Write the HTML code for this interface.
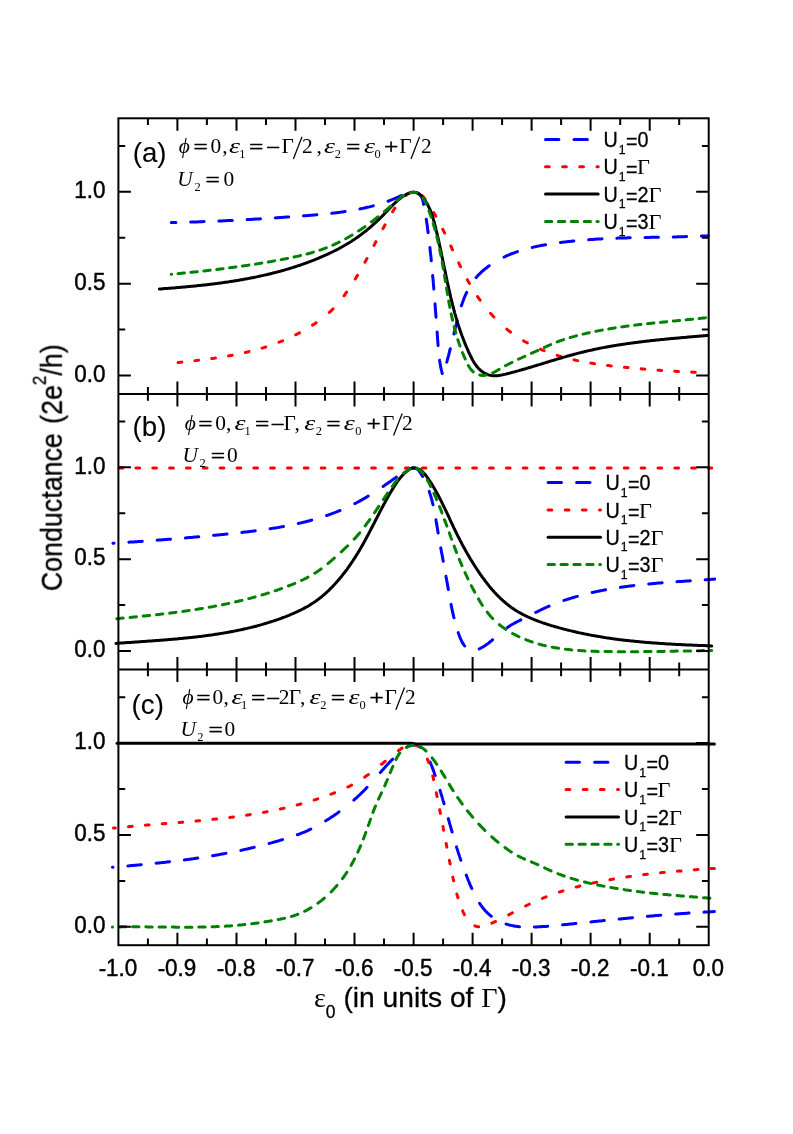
<!DOCTYPE html>
<html><head><meta charset="utf-8"><title>Conductance</title>
<style>html,body{margin:0;padding:0;background:#fff;}svg{display:block;}text{font-family:"Liberation Sans", sans-serif;fill:#000;stroke:#000;stroke-width:0.45px;stroke-linejoin:round;}.se{font-family:"Liberation Serif", serif;stroke-width:0;}.it{font-family:"Liberation Serif", serif;font-style:italic;stroke-width:0;}</style></head><body>
<svg width="793" height="1134" viewBox="0 0 793 1134">
<defs><filter id="g" x="0" y="0" width="793" height="1134" filterUnits="userSpaceOnUse" color-interpolation-filters="sRGB"><feColorMatrix type="saturate" values="0"/></filter></defs>
<rect x="0" y="0" width="793" height="1134" fill="#ffffff"/>
<g fill="none" stroke-width="3.0" stroke-linecap="round" stroke-linejoin="round">
<path d="M171.3 222.6L172.3 222.6L173.3 222.6L174.3 222.5L175.3 222.5L176.3 222.5L177.3 222.5L178.3 222.4L179.3 222.4L180.3 222.4L181.3 222.4L182.3 222.3L183.3 222.3L184.3 222.3L185.3 222.2L186.3 222.2L187.3 222.2L188.3 222.2L189.3 222.1L190.3 222.1L191.3 222.1L192.3 222L193.3 222L194.3 222L195.3 221.9L196.3 221.9L197.3 221.9L198.3 221.8L199.3 221.8L200.3 221.8L201.3 221.7L202.3 221.7L203.3 221.6L204.3 221.6L205.3 221.6L206.3 221.5L207.3 221.5L208.3 221.4L209.3 221.4L210.3 221.4L211.3 221.3L212.3 221.3L213.3 221.2L214.3 221.2L215.3 221.2L216.3 221.1L217.3 221.1L218.3 221L219.3 221L220.3 220.9L221.3 220.9L222.3 220.9L223.3 220.8L224.3 220.8L225.3 220.7L226.3 220.7L227.3 220.6L228.3 220.6L229.3 220.5L230.3 220.5L231.3 220.4L232.3 220.4L233.3 220.3L234.3 220.3L235.3 220.2L236.3 220.2L237.3 220.1L238.2 220.1L239.2 220L240.2 220L241.2 219.9L242.2 219.9L243.2 219.8L244.2 219.7L245.2 219.7L246.2 219.6L247.2 219.6L248.2 219.5L249.2 219.5L250.2 219.4L251.2 219.4L252.2 219.3L253.2 219.2L254.2 219.2L255.2 219.1L256.2 219.1L257.2 219L258.2 218.9L259.2 218.9L260.2 218.8L261.2 218.8L262.2 218.7L263.2 218.6L264.2 218.6L265.2 218.5L266.2 218.4L267.2 218.4L268.1 218.3L269.1 218.3L270.1 218.2L271.1 218.1L272.1 218.1L273.1 218L274.1 217.9L275.1 217.9L276.1 217.8L277.1 217.7L278.1 217.7L279.1 217.6L280.1 217.5L281.1 217.5L282.1 217.4L283.1 217.3L284.1 217.3L285.1 217.2L286.1 217.1L287.1 217L288.1 217L289.1 216.9L290.1 216.8L291.1 216.8L292.1 216.7L293.1 216.6L294.1 216.5L295.1 216.5L296.1 216.4L297.1 216.3L298.1 216.3L299.1 216.2L300.1 216.1L301.1 216L302.1 216L303.1 215.9L304.1 215.8L305.1 215.7L306.1 215.7L307.1 215.6L308.1 215.5L309.1 215.4L310.1 215.3L311.1 215.3L312.1 215.2L313.1 215.1L314.1 215L315.1 214.9L316.1 214.8L317.1 214.7L318.1 214.7L319.1 214.6L320.1 214.5L321.1 214.4L322.1 214.3L323.1 214.2L324.1 214.1L325.1 214L326.1 213.9L327.1 213.8L328.1 213.7L329.1 213.6L330 213.5L331 213.4L332 213.3L333 213.1L334 213L335 212.9L336 212.8L337 212.7L338 212.5L339 212.4L340 212.3L341 212.1L342 212L342.9 211.9L343.9 211.7L344.9 211.6L345.9 211.4L346.9 211.3L347.9 211.1L348.9 211L349.9 210.8L350.8 210.6L351.8 210.5L352.8 210.3L353.8 210.1L354.8 210L355.7 209.8L356.7 209.6L357.7 209.4L358.7 209.2L359.7 209L360.6 208.8L361.6 208.6L362.6 208.4L363.6 208.2L364.5 208L365.5 207.8L366.5 207.5L367.4 207.3L368.4 207.1L369.4 206.9L370.3 206.6L371.3 206.4L372.3 206.1L373.2 205.9L374.2 205.6L375.2 205.3L376.1 205.1L377.1 204.8L378 204.5L379 204.2L379.9 203.9L380.9 203.7L381.8 203.3L382.8 203L383.7 202.7L384.7 202.4L385.6 202.1L386.6 201.7L387.5 201.4L388.5 201.1L389.4 200.7L390.3 200.3L391.3 200L392.2 199.6L393.1 199.2L394.1 198.8L395 198.4L395.9 198L396.8 197.6L397.8 197.2L398.7 196.8L399.6 196.3L400.5 195.9L401.4 195.5L402.4 195L403.3 194.6L404.2 194.1L405.1 193.7L406 193.4L407 193L407.9 192.7L408.9 192.4L409.8 192.2L410.8 192.1L411.8 192L412.8 192L413.8 192L414.8 192.1L415.8 192.4L416.7 192.6L417.7 193L418.5 193.5L419.3 194L419.9 194.6L420.5 195.3L421.1 196.1L421.5 196.9L421.9 197.8L422.3 198.7L422.6 199.6L422.9 200.6L423.1 201.6L423.3 202.6L423.5 203.6L423.7 204.7L423.9 205.7L424.1 206.7L424.3 207.7L424.5 208.8L424.7 209.8L424.8 210.8L425 211.8L425.2 212.8L425.4 213.8L425.5 214.8L425.7 215.8L425.9 216.8L426 217.8L426.2 218.8L426.3 219.8L426.5 220.8L426.7 221.8L426.8 222.8L426.9 223.8L427.1 224.8L427.2 225.8L427.4 226.8L427.5 227.8L427.6 228.8L427.8 229.8L427.9 230.8L428 231.8L428.2 232.7L428.3 233.7L428.4 234.7L428.5 235.7L428.7 236.7L428.8 237.7L428.9 238.7L429 239.6L429.1 240.6L429.3 241.6L429.4 242.6L429.5 243.6L429.6 244.6L429.7 245.5L429.8 246.5L429.9 247.5L430 248.5L430.1 249.5L430.2 250.5L430.3 251.5L430.4 252.4L430.5 253.4L430.6 254.4L430.8 255.4L430.9 256.4L431 257.4L431.1 258.4L431.2 259.4L431.2 260.4L431.3 261.3L431.4 262.3L431.5 263.3L431.6 264.3L431.7 265.3L431.8 266.3L431.9 267.3L432 268.3L432.1 269.3L432.2 270.3L432.3 271.3L432.4 272.3L432.5 273.3L432.6 274.3L432.6 275.3L432.7 276.3L432.8 277.3L432.9 278.2L433 279.2L433.1 280.2L433.2 281.2L433.3 282.2L433.3 283.2L433.4 284.2L433.5 285.2L433.6 286.2L433.7 287.2L433.8 288.2L433.8 289.2L433.9 290.2L434 291.2L434.1 292.2L434.2 293.2L434.3 294.2L434.3 295.2L434.4 296.2L434.5 297.2L434.6 298.2L434.6 299.2L434.7 300.2L434.8 301.2L434.9 302.2L435 303.2L435 304.2L435.1 305.2L435.2 306.2L435.3 307.2L435.3 308.2L435.4 309.2L435.5 310.2L435.6 311.2L435.6 312.2L435.7 313.2L435.8 314.2L435.9 315.2L435.9 316.2L436 317.2L436.1 318.2L436.2 319.2L436.2 320.2L436.3 321.2L436.4 322.2L436.5 323.2L436.5 324.2L436.6 325.2L436.7 326.2L436.8 327.2L436.8 328.2L436.9 329.2L437 330.2L437 331.2L437.1 332.2L437.2 333.2L437.3 334.2L437.3 335.2L437.4 336.2L437.5 337.2L437.5 338.2L437.6 339.2L437.7 340.2L437.8 341.2L437.8 342.2L437.9 343.2L438 344.2L438.1 345.2L438.1 346.2L438.2 347.2L438.3 348.2L438.4 349.1L438.5 350.1L438.6 351.1L438.7 352.1L438.8 353.1L438.9 354.1L439 355.1L439.1 356.1L439.2 357.1L439.3 358.1L439.4 359.1L439.6 360L439.7 361L439.9 362L440 363L440.2 364L440.4 365L440.5 365.9L440.7 366.9L440.9 367.9L441.1 368.9L441.3 369.9L441.6 370.8L441.8 371.8L442 372.8L442.3 373.8L442.5 374.7L442.7 375.3L443 374.3L443.3 373.4L443.6 372.4L444 371.5L444.3 370.5L444.6 369.6L444.8 368.6L445.1 367.6L445.4 366.7L445.7 365.7L446 364.8L446.3 363.8L446.5 362.8L446.8 361.9L447.1 360.9L447.3 360L447.6 359L447.9 358L448.1 357.1L448.4 356.1L448.6 355.1L448.9 354.2L449.1 353.2L449.4 352.3L449.6 351.3L449.9 350.3L450.1 349.4L450.4 348.4L450.6 347.4L450.8 346.5L451.1 345.5L451.3 344.5L451.5 343.6L451.8 342.6L452 341.6L452.2 340.7L452.5 339.7L452.7 338.7L452.9 337.8L453.2 336.8L453.4 335.8L453.7 334.8L453.9 333.9L454.1 332.9L454.4 331.9L454.6 331L454.8 330L455.1 329L455.3 328L455.5 327.1L455.8 326.1L456 325.1L456.3 324.1L456.5 323.2L456.8 322.2L457 321.2L457.3 320.3L457.5 319.3L457.8 318.3L458 317.3L458.3 316.4L458.6 315.4L458.8 314.4L459.1 313.4L459.4 312.5L459.6 311.5L459.9 310.5L460.2 309.6L460.5 308.6L460.8 307.6L461.1 306.7L461.4 305.7L461.7 304.8L462.1 303.8L462.4 302.9L462.7 301.9L463.1 301L463.4 300L463.8 299.1L464.1 298.2L464.5 297.2L464.9 296.3L465.3 295.4L465.7 294.5L466.1 293.6L466.5 292.7L466.9 291.8L467.4 290.9L467.8 290L468.3 289.1L468.8 288.3L469.2 287.4L469.7 286.6L470.3 285.7L470.8 284.9L471.3 284L471.8 283.2L472.4 282.4L473 281.6L473.6 280.8L474.2 280L474.8 279.2L475.4 278.4L476 277.7L476.7 276.9L477.4 276.2L478 275.4L478.7 274.7L479.5 274L480.2 273.3L480.9 272.6L481.6 271.9L482.4 271.2L483.2 270.5L483.9 269.9L484.7 269.2L485.5 268.6L486.3 268L487.1 267.3L487.9 266.7L488.7 266.1L489.5 265.5L490.4 265L491.2 264.4L492 263.8L492.9 263.3L493.7 262.7L494.6 262.2L495.4 261.7L496.3 261.2L497.1 260.7L498 260.2L498.9 259.7L499.7 259.2L500.6 258.8L501.5 258.3L502.4 257.9L503.3 257.4L504.2 257L505.1 256.6L506 256.1L506.9 255.7L507.8 255.3L508.7 254.9L509.6 254.6L510.5 254.2L511.4 253.8L512.4 253.5L513.3 253.1L514.2 252.8L515.2 252.4L516.1 252.1L517 251.8L518 251.4L518.9 251.1L519.9 250.8L520.8 250.5L521.8 250.2L522.7 249.9L523.7 249.7L524.6 249.4L525.6 249.1L526.6 248.8L527.5 248.6L528.5 248.3L529.5 248.1L530.4 247.9L531.4 247.6L532.4 247.4L533.4 247.2L534.3 246.9L535.3 246.7L536.3 246.5L537.3 246.3L538.3 246.1L539.2 245.9L540.2 245.7L541.2 245.5L542.2 245.3L543.2 245.2L544.2 245L545.2 244.8L546.2 244.6L547.2 244.5L548.2 244.3L549.1 244.1L550.1 244L551.1 243.8L552.1 243.7L553.1 243.5L554.1 243.4L555.1 243.2L556.1 243.1L557.1 243L558.1 242.8L559.1 242.7L560.1 242.6L561.1 242.4L562.1 242.3L563.1 242.2L564.1 242.1L565.1 241.9L566.1 241.8L567.1 241.7L568.1 241.6L569 241.5L570 241.4L571 241.3L572 241.2L573 241L574 240.9L575 240.8L576 240.8L577 240.7L578 240.6L579 240.5L580 240.4L581 240.3L582 240.2L583 240.1L584 240L585 240L586 239.9L587 239.8L588 239.7L589 239.7L590 239.6L591 239.5L592 239.4L592.9 239.4L593.9 239.3L594.9 239.2L595.9 239.2L596.9 239.1L597.9 239.1L598.9 239L599.9 239L600.9 238.9L601.9 238.8L602.9 238.8L603.9 238.7L604.9 238.7L605.9 238.6L606.9 238.6L607.9 238.5L608.9 238.5L609.9 238.5L610.9 238.4L611.9 238.4L612.9 238.3L613.9 238.3L614.9 238.2L615.9 238.2L616.9 238.2L617.9 238.1L618.9 238.1L619.9 238.1L620.9 238L621.9 238L622.9 238L623.8 237.9L624.8 237.9L625.8 237.9L626.8 237.9L627.8 237.8L628.8 237.8L629.8 237.8L630.8 237.7L631.8 237.7L632.8 237.7L633.8 237.7L634.8 237.7L635.8 237.6L636.8 237.6L637.8 237.6L638.8 237.6L639.8 237.5L640.8 237.5L641.8 237.5L642.8 237.5L643.8 237.5L644.8 237.4L645.8 237.4L646.8 237.4L647.8 237.4L648.8 237.4L649.8 237.4L650.8 237.3L651.8 237.3L652.8 237.3L653.8 237.3L654.8 237.3L655.8 237.2L656.8 237.2L657.8 237.2L658.8 237.2L659.8 237.2L660.8 237.2L661.8 237.1L662.8 237.1L663.8 237.1L664.8 237.1L665.8 237.1L666.8 237.1L667.8 237L668.8 237L669.8 237L670.8 237L671.8 237L672.8 236.9L673.8 236.9L674.8 236.9L675.8 236.9L676.8 236.9L677.8 236.8L678.8 236.8L679.8 236.8L680.8 236.8L681.8 236.7L682.8 236.7L683.8 236.7L684.8 236.7L685.8 236.6L686.8 236.6L687.8 236.6L688.8 236.5L689.8 236.5L690.8 236.5L691.8 236.5L692.8 236.4L693.8 236.4L694.8 236.4L695.8 236.3L696.8 236.3L697.8 236.2L698.8 236.2L699.8 236.2L700.8 236.1L701.8 236.1L702.8 236L703.8 236L704.8 236L705.8 235.9L706.8 235.9L707.8 235.8L708.2 235.8" stroke="#0000ff" stroke-dasharray="4.6 14.82 13.42 14.83 13.43 14.84 13.44 14.85 13.45 14.85 13.46 14.87 13.53 15.04 13.76 15.53 14.61 15.52 14.87 15.04 13.56 14.91 13.48 14.87 13.46 14.86 13.45 14.85 13.45 14.89 13.68 15.48 13.89 15.24 13.82 15.39 14.42 17.63 17.74 17.18 14.49 15.4 13.69 14.98 13.51 14.86 13.44 14.83 13.42 14.82 13.41 14.81 13.41 14.82 56.81 50"/>
<path d="M178.1 362.5L179.1 362.4L180.1 362.3L181.1 362.2L182.1 362.1L183.1 362L184 361.9L185 361.8L186 361.7L187 361.6L188 361.4L189 361.3L190 361.2L191 361.1L192 361L193 360.9L194 360.8L195 360.7L196 360.6L196.9 360.4L197.9 360.3L198.9 360.2L199.9 360.1L200.9 360L201.9 359.8L202.9 359.7L203.9 359.6L204.9 359.5L205.9 359.3L206.9 359.2L207.9 359.1L208.9 358.9L209.9 358.8L210.9 358.7L211.8 358.5L212.8 358.4L213.8 358.3L214.8 358.1L215.8 358L216.8 357.8L217.8 357.7L218.8 357.5L219.8 357.4L220.8 357.2L221.8 357.1L222.7 356.9L223.7 356.7L224.7 356.6L225.7 356.4L226.7 356.2L227.7 356.1L228.7 355.9L229.7 355.7L230.6 355.5L231.6 355.4L232.6 355.2L233.6 355L234.6 354.8L235.6 354.6L236.5 354.4L237.5 354.2L238.5 354L239.5 353.8L240.5 353.6L241.4 353.4L242.4 353.2L243.4 353L244.4 352.7L245.3 352.5L246.3 352.3L247.3 352.1L248.3 351.8L249.2 351.6L250.2 351.3L251.2 351.1L252.1 350.9L253.1 350.6L254.1 350.4L255 350.1L256 349.8L257 349.6L257.9 349.3L258.9 349L259.8 348.7L260.8 348.5L261.8 348.2L262.7 347.9L263.7 347.6L264.6 347.3L265.6 347L266.5 346.7L267.5 346.4L268.4 346.1L269.4 345.7L270.3 345.4L271.3 345.1L272.2 344.8L273.1 344.4L274.1 344.1L275 343.7L276 343.4L276.9 343L277.8 342.7L278.8 342.3L279.7 341.9L280.6 341.6L281.5 341.2L282.5 340.8L283.4 340.4L284.3 340L285.2 339.7L286.2 339.3L287.1 338.9L288 338.4L288.9 338L289.8 337.6L290.7 337.2L291.6 336.8L292.5 336.3L293.4 335.9L294.3 335.5L295.2 335L296.1 334.6L297 334.1L297.9 333.7L298.8 333.2L299.7 332.7L300.5 332.3L301.4 331.8L302.3 331.3L303.2 330.8L304 330.3L304.9 329.8L305.8 329.3L306.6 328.8L307.5 328.3L308.3 327.8L309.2 327.3L310.1 326.8L310.9 326.2L311.7 325.7L312.6 325.1L313.4 324.6L314.3 324.1L315.1 323.5L315.9 322.9L316.8 322.4L317.6 321.8L318.4 321.2L319.2 320.6L320 320.1L320.8 319.5L321.6 318.9L322.4 318.3L323.2 317.6L324 317L324.8 316.4L325.6 315.8L326.3 315.1L327.1 314.5L327.8 313.8L328.6 313.1L329.3 312.5L330.1 311.8L330.8 311.1L331.5 310.4L332.2 309.7L332.9 309L333.6 308.3L334.3 307.5L335 306.8L335.7 306L336.3 305.3L337 304.5L337.6 303.8L338.3 303L338.9 302.2L339.6 301.5L340.2 300.7L340.8 299.9L341.4 299.1L342.1 298.3L342.7 297.5L343.3 296.7L343.9 295.9L344.5 295.1L345 294.3L345.6 293.4L346.2 292.6L346.8 291.8L347.4 291L347.9 290.2L348.5 289.3L349.1 288.5L349.6 287.7L350.2 286.8L350.7 286L351.3 285.2L351.8 284.3L352.4 283.5L352.9 282.7L353.4 281.8L354 281L354.5 280.1L355 279.3L355.6 278.4L356.1 277.6L356.6 276.7L357.1 275.9L357.6 275L358.1 274.2L358.6 273.3L359.1 272.4L359.6 271.6L360.1 270.7L360.6 269.9L361.1 269L361.6 268.1L362.1 267.3L362.6 266.4L363.1 265.5L363.6 264.7L364.1 263.8L364.6 262.9L365 262L365.5 261.2L366 260.3L366.5 259.4L367 258.5L367.4 257.7L367.9 256.8L368.4 255.9L368.9 255L369.3 254.2L369.8 253.3L370.3 252.4L370.7 251.5L371.2 250.6L371.7 249.8L372.2 248.9L372.6 248L373.1 247.1L373.6 246.2L374 245.3L374.5 244.5L375 243.6L375.4 242.7L375.9 241.8L376.4 240.9L376.8 240L377.3 239.2L377.8 238.3L378.2 237.4L378.7 236.5L379.2 235.6L379.7 234.7L380.1 233.9L380.6 233L381.1 232.1L381.6 231.2L382 230.3L382.5 229.5L383 228.6L383.5 227.7L384 226.8L384.4 225.9L384.9 225.1L385.4 224.2L385.9 223.3L386.4 222.4L386.9 221.6L387.4 220.7L387.9 219.8L388.4 218.9L388.9 218.1L389.4 217.2L389.9 216.3L390.4 215.5L390.9 214.6L391.4 213.7L391.9 212.9L392.5 212L393 211.1L393.5 210.3L394 209.4L394.6 208.6L395.1 207.7L395.6 206.8L396.2 206L396.7 205.2L397.3 204.3L397.9 203.5L398.5 202.7L399.1 201.9L399.7 201.1L400.3 200.3L401 199.6L401.6 198.9L402.3 198.2L403 197.5L403.8 196.8L404.6 196.2L405.4 195.6L406.2 195L407 194.5L407.9 194L408.9 193.5L409.8 193.1L410.8 192.8L411.8 192.5L412.8 192.3L413.8 192.1L414.8 192.1L415.7 192.2L416.7 192.3L417.7 192.6L418.6 192.9L419.4 193.4L420.2 193.9L421 194.5L421.7 195.1L422.4 195.8L423 196.6L423.7 197.3L424.3 198.1L424.9 199L425.5 199.8L426.1 200.6L426.6 201.5L427.2 202.3L427.8 203.1L428.3 204L428.9 204.8L429.5 205.6L430 206.5L430.5 207.3L431.1 208.2L431.6 209.1L432.1 209.9L432.7 210.8L433.2 211.6L433.7 212.5L434.2 213.4L434.7 214.2L435.2 215.1L435.7 216L436.2 216.8L436.7 217.7L437.2 218.6L437.7 219.5L438.1 220.3L438.6 221.2L439.1 222.1L439.5 223L440 223.9L440.5 224.8L440.9 225.6L441.4 226.5L441.8 227.4L442.3 228.3L442.7 229.2L443.2 230.1L443.6 231L444.1 231.9L444.5 232.8L445 233.7L445.4 234.6L445.8 235.5L446.3 236.4L446.7 237.3L447.1 238.2L447.5 239.1L448 240L448.4 240.9L448.8 241.8L449.2 242.7L449.7 243.6L450.1 244.5L450.5 245.4L450.9 246.3L451.4 247.2L451.8 248.1L452.2 249.1L452.6 250L453 250.9L453.5 251.8L453.9 252.7L454.3 253.6L454.7 254.5L455.2 255.4L455.6 256.3L456 257.2L456.4 258.1L456.9 259L457.3 259.9L457.7 260.8L458.1 261.7L458.6 262.6L459 263.5L459.4 264.4L459.9 265.3L460.3 266.2L460.8 267.1L461.2 268L461.6 268.9L462.1 269.8L462.5 270.7L463 271.6L463.4 272.5L463.9 273.3L464.4 274.2L464.8 275.1L465.3 276L465.8 276.9L466.2 277.8L466.7 278.6L467.2 279.5L467.7 280.4L468.2 281.3L468.7 282.1L469.2 283L469.7 283.9L470.2 284.7L470.7 285.6L471.2 286.5L471.7 287.3L472.2 288.2L472.7 289L473.3 289.9L473.8 290.8L474.3 291.6L474.9 292.4L475.4 293.3L476 294.1L476.5 295L477.1 295.8L477.6 296.6L478.2 297.5L478.8 298.3L479.4 299.1L479.9 299.9L480.5 300.7L481.1 301.6L481.7 302.4L482.3 303.2L482.9 304L483.5 304.8L484.1 305.6L484.7 306.4L485.4 307.1L486 307.9L486.6 308.7L487.3 309.5L487.9 310.3L488.5 311L489.2 311.8L489.8 312.5L490.5 313.3L491.2 314.1L491.8 314.8L492.5 315.5L493.2 316.3L493.9 317L494.5 317.7L495.2 318.5L495.9 319.2L496.6 319.9L497.3 320.6L498 321.3L498.8 322L499.5 322.7L500.2 323.4L500.9 324L501.7 324.7L502.4 325.4L503.2 326.1L503.9 326.7L504.7 327.4L505.4 328L506.2 328.7L507 329.3L507.7 329.9L508.5 330.5L509.3 331.2L510.1 331.8L510.9 332.4L511.7 333L512.5 333.6L513.3 334.1L514.1 334.7L514.9 335.3L515.8 335.9L516.6 336.4L517.4 337L518.3 337.5L519.1 338.1L519.9 338.6L520.8 339.1L521.7 339.6L522.5 340.2L523.4 340.7L524.2 341.2L525.1 341.7L526 342.2L526.9 342.6L527.7 343.1L528.6 343.6L529.5 344.1L530.4 344.5L531.3 345L532.2 345.4L533.1 345.9L534 346.3L534.9 346.7L535.8 347.2L536.7 347.6L537.6 348L538.6 348.4L539.5 348.8L540.4 349.2L541.3 349.6L542.3 350L543.2 350.4L544.1 350.7L545 351.1L546 351.5L546.9 351.8L547.8 352.2L548.8 352.5L549.7 352.8L550.7 353.2L551.6 353.5L552.5 353.8L553.5 354.2L554.4 354.5L555.4 354.8L556.3 355.1L557.3 355.4L558.2 355.7L559.2 356L560.2 356.2L561.1 356.5L562.1 356.8L563 357.1L564 357.3L565 357.6L565.9 357.9L566.9 358.1L567.8 358.4L568.8 358.6L569.8 358.8L570.7 359.1L571.7 359.3L572.7 359.5L573.7 359.8L574.6 360L575.6 360.2L576.6 360.4L577.6 360.6L578.5 360.8L579.5 361L580.5 361.2L581.5 361.4L582.5 361.6L583.4 361.8L584.4 362L585.4 362.1L586.4 362.3L587.4 362.5L588.4 362.7L589.3 362.8L590.3 363L591.3 363.2L592.3 363.3L593.3 363.5L594.3 363.6L595.3 363.8L596.3 363.9L597.3 364.1L598.3 364.2L599.2 364.4L600.2 364.5L601.2 364.6L602.2 364.8L603.2 364.9L604.2 365L605.2 365.1L606.2 365.3L607.2 365.4L608.2 365.5L609.2 365.6L610.2 365.8L611.2 365.9L612.2 366L613.2 366.1L614.2 366.2L615.2 366.3L616.2 366.4L617.2 366.5L618.2 366.6L619.2 366.7L620.2 366.8L621.2 367L622.2 367.1L623.1 367.2L624.1 367.3L625.1 367.3L626.1 367.4L627.1 367.5L628.1 367.6L629.1 367.7L630.1 367.8L631.1 367.9L632.1 368L633.1 368.1L634.1 368.2L635.1 368.3L636.1 368.4L637.1 368.5L638.1 368.6L639.1 368.6L640.1 368.7L641.1 368.8L642.1 368.9L643.1 369L644.1 369.1L645.1 369.2L646.1 369.2L647 369.3L648 369.4L649 369.5L650 369.6L651 369.6L652 369.7L653 369.8L654 369.9L655 370L656 370L657 370.1L658 370.2L659 370.2L660 370.3L661 370.4L662 370.5L663 370.5L664 370.6L665 370.7L666 370.7L666.9 370.8L667.9 370.9L668.9 370.9L669.9 371L670.9 371L671.9 371.1L672.9 371.2L673.9 371.2L674.9 371.3L675.9 371.3L676.9 371.4L677.9 371.5L678.9 371.5L679.9 371.6L680.9 371.6L681.9 371.7L682.9 371.7L683.9 371.8L684.9 371.8L685.9 371.9L686.9 371.9L687.9 371.9L688.9 372L689.9 372L690.9 372.1L691.9 372.1L692.9 372.2L693.9 372.2L694.9 372.2L695.9 372.3L696.9 372.3L697.9 372.3L698.9 372.4L699.9 372.4L700 372.4" stroke="#ff0000" stroke-dasharray="3.72 13.18 3.74 13.23 3.74 13.28 3.76 13.4 3.8 13.59 3.88 13.93 4 14.42 4.17 15.21 4.44 16.66 5.16 17.11 4.53 15.7 4.32 15.09 4.25 14.84 4.21 14.89 4.22 15.15 4.35 16.59 4.29 14.34 4.71 15.64 4.27 14.83 4.14 14.5 4.08 14.51 4.11 14.77 4.26 15.43 4.52 16.73 5.03 17.75 4.73 15.77 4.22 14.58 4 13.92 3.85 13.56 3.78 13.34 3.74 13.24 3.73 13.18 3.71 13.16 3.72 13.15 3.71 13.14 3.71 13.13 3.71 54.71"/>
<path d="M159.4 289L160.4 288.9L161.4 288.9L162.4 288.8L163.4 288.7L164.4 288.6L165.4 288.6L166.4 288.5L167.3 288.4L168.3 288.3L169.3 288.3L170.3 288.2L171.3 288.1L172.3 288L173.3 287.9L174.3 287.9L175.3 287.8L176.3 287.7L177.3 287.6L178.3 287.5L179.3 287.4L180.3 287.3L181.3 287.3L182.3 287.2L183.3 287.1L184.3 287L185.3 286.9L186.3 286.8L187.3 286.7L188.3 286.6L189.3 286.5L190.2 286.4L191.2 286.3L192.2 286.2L193.2 286.2L194.2 286.1L195.2 286L196.2 285.9L197.2 285.7L198.2 285.6L199.2 285.5L200.2 285.4L201.2 285.3L202.2 285.2L203.2 285.1L204.2 285L205.2 284.9L206.2 284.8L207.2 284.7L208.2 284.5L209.2 284.4L210.2 284.3L211.2 284.2L212.2 284.1L213.2 283.9L214.1 283.8L215.1 283.7L216.1 283.6L217.1 283.4L218.1 283.3L219.1 283.2L220.1 283L221.1 282.9L222.1 282.8L223.1 282.6L224.1 282.5L225.1 282.3L226.1 282.2L227.1 282.1L228 281.9L229 281.8L230 281.6L231 281.5L232 281.3L233 281.2L234 281L235 280.8L236 280.7L236.9 280.5L237.9 280.4L238.9 280.2L239.9 280L240.9 279.8L241.9 279.7L242.9 279.5L243.9 279.3L244.8 279.1L245.8 279L246.8 278.8L247.8 278.6L248.8 278.4L249.8 278.2L250.7 278L251.7 277.8L252.7 277.7L253.7 277.5L254.7 277.3L255.6 277.1L256.6 276.9L257.6 276.6L258.6 276.4L259.5 276.2L260.5 276L261.5 275.8L262.5 275.6L263.4 275.4L264.4 275.1L265.4 274.9L266.4 274.7L267.3 274.5L268.3 274.2L269.3 274L270.3 273.8L271.2 273.5L272.2 273.3L273.2 273L274.1 272.8L275.1 272.6L276.1 272.3L277 272.1L278 271.8L279 271.5L279.9 271.3L280.9 271L281.8 270.7L282.8 270.5L283.8 270.2L284.7 269.9L285.7 269.7L286.6 269.4L287.6 269.1L288.6 268.8L289.5 268.5L290.5 268.2L291.4 267.9L292.4 267.6L293.3 267.3L294.3 267L295.2 266.7L296.2 266.4L297.1 266.1L298.1 265.8L299 265.5L300 265.2L300.9 264.8L301.9 264.5L302.8 264.2L303.7 263.8L304.7 263.5L305.6 263.2L306.6 262.8L307.5 262.5L308.4 262.1L309.4 261.8L310.3 261.4L311.2 261.1L312.2 260.7L313.1 260.4L314 260L315 259.6L315.9 259.2L316.8 258.9L317.8 258.5L318.7 258.1L319.6 257.7L320.5 257.3L321.4 256.9L322.4 256.5L323.3 256.1L324.2 255.7L325.1 255.3L326 254.9L327 254.5L327.9 254.1L328.8 253.6L329.7 253.2L330.6 252.8L331.5 252.3L332.4 251.9L333.3 251.5L334.2 251L335.1 250.6L336 250.1L336.9 249.7L337.8 249.2L338.7 248.7L339.5 248.3L340.4 247.8L341.3 247.3L342.2 246.8L343.1 246.3L343.9 245.8L344.8 245.3L345.7 244.8L346.5 244.3L347.4 243.8L348.2 243.3L349.1 242.8L349.9 242.2L350.8 241.7L351.6 241.2L352.5 240.6L353.3 240.1L354.1 239.5L355 239L355.8 238.4L356.6 237.8L357.4 237.3L358.2 236.7L359 236.1L359.9 235.5L360.7 234.9L361.5 234.3L362.2 233.7L363 233.1L363.8 232.5L364.6 231.9L365.4 231.3L366.2 230.7L366.9 230L367.7 229.4L368.5 228.8L369.2 228.1L370 227.5L370.8 226.8L371.5 226.2L372.3 225.5L373 224.8L373.7 224.2L374.5 223.5L375.2 222.8L376 222.1L376.7 221.5L377.4 220.8L378.1 220.1L378.9 219.4L379.6 218.7L380.3 218L381 217.3L381.7 216.6L382.4 215.9L383.1 215.2L383.8 214.4L384.5 213.7L385.2 213L385.9 212.3L386.6 211.5L387.3 210.8L388 210.1L388.6 209.3L389.3 208.6L390 207.9L390.7 207.2L391.4 206.4L392.1 205.7L392.8 205L393.5 204.3L394.3 203.6L395 202.9L395.7 202.2L396.5 201.6L397.2 200.9L398 200.2L398.7 199.6L399.5 199L400.3 198.3L401.1 197.7L402 197.1L402.8 196.6L403.7 196L404.5 195.5L405.4 194.9L406.3 194.4L407.3 193.9L408.2 193.5L409.1 193.1L410.1 192.7L411 192.5L412 192.3L412.9 192.2L413.8 192.2L414.7 192.3L415.6 192.4L416.4 192.7L417.3 193.1L418.1 193.5L418.9 194L419.7 194.6L420.4 195.2L421.2 195.9L421.9 196.6L422.6 197.4L423.2 198.2L423.9 199L424.5 199.8L425.1 200.7L425.7 201.5L426.3 202.4L426.8 203.2L427.3 204.1L427.8 205L428.3 205.9L428.7 206.8L429.1 207.7L429.6 208.6L430 209.5L430.4 210.4L430.7 211.3L431.1 212.3L431.4 213.2L431.8 214.2L432.1 215.1L432.4 216L432.7 217L433 218L433.3 218.9L433.5 219.9L433.8 220.8L434.1 221.8L434.3 222.8L434.6 223.7L434.8 224.7L435.1 225.7L435.3 226.7L435.6 227.6L435.8 228.6L436 229.6L436.3 230.5L436.5 231.5L436.7 232.5L437 233.5L437.2 234.4L437.4 235.4L437.7 236.4L437.9 237.4L438.1 238.4L438.3 239.3L438.5 240.3L438.8 241.3L439 242.3L439.2 243.2L439.4 244.2L439.6 245.2L439.8 246.2L440.1 247.2L440.3 248.1L440.5 249.1L440.7 250.1L440.9 251.1L441.1 252.1L441.3 253.1L441.5 254L441.7 255L441.9 256L442.1 257L442.3 258L442.5 258.9L442.7 259.9L442.9 260.9L443.1 261.9L443.3 262.9L443.5 263.9L443.7 264.8L443.9 265.8L444.1 266.8L444.3 267.8L444.5 268.8L444.8 269.8L445 270.7L445.2 271.7L445.4 272.7L445.6 273.7L445.8 274.7L446 275.6L446.2 276.6L446.4 277.6L446.6 278.6L446.8 279.6L447 280.5L447.2 281.5L447.4 282.5L447.6 283.5L447.8 284.5L448.1 285.4L448.3 286.4L448.5 287.4L448.7 288.4L448.9 289.3L449.1 290.3L449.4 291.3L449.6 292.3L449.8 293.2L450 294.2L450.3 295.2L450.5 296.2L450.7 297.1L450.9 298.1L451.2 299.1L451.4 300.1L451.6 301L451.9 302L452.1 303L452.4 303.9L452.6 304.9L452.9 305.9L453.1 306.8L453.4 307.8L453.6 308.8L453.9 309.7L454.1 310.7L454.4 311.7L454.6 312.6L454.9 313.6L455.2 314.5L455.5 315.5L455.7 316.5L456 317.4L456.3 318.4L456.6 319.3L456.9 320.3L457.1 321.2L457.4 322.2L457.7 323.1L458 324.1L458.3 325L458.6 326L458.9 326.9L459.2 327.9L459.6 328.8L459.9 329.8L460.2 330.7L460.5 331.7L460.9 332.6L461.2 333.5L461.5 334.5L461.9 335.4L462.2 336.3L462.6 337.3L462.9 338.2L463.3 339.1L463.6 340.1L464 341L464.4 341.9L464.7 342.9L465.1 343.8L465.5 344.7L465.9 345.6L466.3 346.6L466.7 347.5L467.1 348.4L467.5 349.3L467.9 350.2L468.3 351.1L468.7 352.1L469.1 353L469.6 353.9L470 354.8L470.4 355.7L470.9 356.6L471.3 357.5L471.8 358.4L472.2 359.3L472.7 360.2L473.2 361L473.7 361.9L474.2 362.8L474.8 363.6L475.3 364.4L475.9 365.2L476.5 366L477.1 366.8L477.8 367.6L478.4 368.3L479.1 369L479.9 369.7L480.6 370.4L481.4 371L482.2 371.6L483.1 372.2L483.9 372.7L484.9 373.3L485.8 373.7L486.8 374.2L487.7 374.6L488.7 374.9L489.7 375.2L490.7 375.4L491.7 375.6L492.7 375.7L493.6 375.8L494.6 375.8L495.6 375.8L496.6 375.8L497.6 375.7L498.5 375.6L499.5 375.4L500.5 375.2L501.5 375.1L502.4 374.9L503.4 374.6L504.4 374.4L505.3 374.2L506.3 373.9L507.3 373.7L508.3 373.4L509.2 373.2L510.2 372.9L511.2 372.7L512.1 372.4L513.1 372.2L514.1 371.9L515 371.7L516 371.4L517 371.1L517.9 370.9L518.9 370.6L519.8 370.3L520.8 370.1L521.8 369.8L522.7 369.5L523.7 369.2L524.6 369L525.6 368.7L526.6 368.4L527.5 368.1L528.5 367.8L529.4 367.5L530.4 367.3L531.4 367L532.3 366.7L533.3 366.4L534.2 366.1L535.2 365.8L536.2 365.5L537.1 365.2L538.1 364.9L539 364.6L540 364.4L540.9 364.1L541.9 363.8L542.9 363.5L543.8 363.2L544.8 362.9L545.7 362.6L546.7 362.3L547.6 362L548.6 361.7L549.5 361.4L550.5 361.1L551.5 360.8L552.4 360.6L553.4 360.3L554.3 360L555.3 359.7L556.3 359.4L557.2 359.1L558.2 358.8L559.1 358.5L560.1 358.3L561 358L562 357.7L563 357.4L563.9 357.1L564.9 356.9L565.8 356.6L566.8 356.3L567.8 356L568.7 355.8L569.7 355.5L570.7 355.2L571.6 355L572.6 354.7L573.5 354.5L574.5 354.2L575.5 353.9L576.4 353.7L577.4 353.4L578.4 353.2L579.3 352.9L580.3 352.7L581.3 352.4L582.3 352.2L583.2 352L584.2 351.7L585.2 351.5L586.1 351.3L587.1 351.1L588.1 350.8L589.1 350.6L590 350.4L591 350.2L592 350L593 349.7L593.9 349.5L594.9 349.3L595.9 349.1L596.9 348.9L597.8 348.7L598.8 348.5L599.8 348.3L600.8 348.1L601.8 347.9L602.7 347.7L603.7 347.6L604.7 347.4L605.7 347.2L606.7 347L607.7 346.8L608.6 346.7L609.6 346.5L610.6 346.3L611.6 346.1L612.6 346L613.6 345.8L614.6 345.6L615.5 345.5L616.5 345.3L617.5 345.1L618.5 345L619.5 344.8L620.5 344.7L621.5 344.5L622.5 344.4L623.4 344.2L624.4 344.1L625.4 343.9L626.4 343.8L627.4 343.6L628.4 343.5L629.4 343.4L630.4 343.2L631.4 343.1L632.4 342.9L633.4 342.8L634.4 342.7L635.3 342.5L636.3 342.4L637.3 342.3L638.3 342.2L639.3 342L640.3 341.9L641.3 341.8L642.3 341.7L643.3 341.6L644.3 341.4L645.3 341.3L646.3 341.2L647.3 341.1L648.3 341L649.3 340.9L650.3 340.7L651.3 340.6L652.3 340.5L653.3 340.4L654.3 340.3L655.3 340.2L656.2 340.1L657.2 340L658.2 339.9L659.2 339.8L660.2 339.7L661.2 339.6L662.2 339.5L663.2 339.4L664.2 339.3L665.2 339.2L666.2 339.1L667.2 339L668.2 338.9L669.2 338.8L670.2 338.7L671.2 338.6L672.2 338.5L673.2 338.4L674.2 338.3L675.2 338.2L676.2 338.2L677.2 338.1L678.2 338L679.2 337.9L680.2 337.8L681.2 337.7L682.2 337.6L683.2 337.5L684.2 337.4L685.2 337.4L686.2 337.3L687.1 337.2L688.1 337.1L689.1 337L690.1 336.9L691.1 336.8L692.1 336.8L693.1 336.7L694.1 336.6L695.1 336.5L696.1 336.4L697.1 336.3L698.1 336.3L699.1 336.2L700.1 336.1L701.1 336L702.1 335.9L703.1 335.8L704 335.8L705 335.7L706 335.6L707 335.5L708 335.4L708.2 335.4" stroke="#000000"/>
<path d="M171.3 274.3L172.3 274.2L173.3 274.1L174.3 274L175.3 273.9L176.3 273.8L177.3 273.7L178.3 273.6L179.3 273.5L180.3 273.4L181.3 273.3L182.3 273.2L183.3 273.1L184.3 273L185.3 272.9L186.3 272.8L187.3 272.7L188.3 272.6L189.3 272.5L190.3 272.4L191.3 272.3L192.3 272.2L193.3 272.1L194.3 272L195.3 271.9L196.3 271.8L197.3 271.7L198.2 271.6L199.2 271.4L200.2 271.3L201.2 271.2L202.2 271.1L203.2 271L204.2 270.9L205.2 270.8L206.2 270.7L207.2 270.6L208.2 270.4L209.2 270.3L210.1 270.2L211.1 270.1L212.1 270L213.1 269.9L214.1 269.8L215.1 269.6L216.1 269.5L217.1 269.4L218.1 269.3L219.1 269.2L220 269L221 268.9L222 268.8L223 268.7L224 268.5L225 268.4L226 268.3L227 268.2L227.9 268L228.9 267.9L229.9 267.8L230.9 267.6L231.9 267.5L232.9 267.4L233.9 267.2L234.9 267.1L235.8 267L236.8 266.8L237.8 266.7L238.8 266.6L239.8 266.4L240.8 266.3L241.8 266.1L242.7 266L243.7 265.9L244.7 265.7L245.7 265.6L246.7 265.4L247.7 265.3L248.7 265.1L249.6 265L250.6 264.8L251.6 264.7L252.6 264.5L253.6 264.4L254.6 264.2L255.6 264.1L256.5 263.9L257.5 263.8L258.5 263.6L259.5 263.4L260.5 263.3L261.5 263.1L262.5 263L263.4 262.8L264.4 262.6L265.4 262.5L266.4 262.3L267.4 262.1L268.4 262L269.4 261.8L270.3 261.6L271.3 261.4L272.3 261.3L273.3 261.1L274.3 260.9L275.3 260.7L276.3 260.5L277.3 260.4L278.2 260.2L279.2 260L280.2 259.8L281.2 259.6L282.2 259.4L283.2 259.2L284.2 259.1L285.2 258.9L286.1 258.7L287.1 258.5L288.1 258.3L289.1 258.1L290.1 257.9L291.1 257.7L292.1 257.5L293.1 257.2L294 257L295 256.8L296 256.6L297 256.4L298 256.2L299 255.9L299.9 255.7L300.9 255.5L301.9 255.2L302.9 255L303.9 254.8L304.8 254.5L305.8 254.3L306.8 254L307.7 253.8L308.7 253.5L309.7 253.2L310.7 253L311.6 252.7L312.6 252.4L313.5 252.1L314.5 251.8L315.5 251.5L316.4 251.2L317.4 250.9L318.3 250.6L319.3 250.3L320.2 250L321.2 249.7L322.1 249.4L323 249L324 248.7L324.9 248.3L325.8 248L326.8 247.6L327.7 247.3L328.6 246.9L329.5 246.5L330.5 246.1L331.4 245.8L332.3 245.4L333.2 245L334.1 244.6L335 244.1L335.9 243.7L336.8 243.3L337.7 242.9L338.6 242.4L339.5 242L340.4 241.6L341.2 241.1L342.1 240.7L343 240.2L343.9 239.7L344.8 239.3L345.6 238.8L346.5 238.3L347.4 237.8L348.2 237.3L349.1 236.8L349.9 236.3L350.8 235.8L351.7 235.3L352.5 234.8L353.4 234.3L354.2 233.8L355 233.2L355.9 232.7L356.7 232.2L357.6 231.6L358.4 231.1L359.2 230.5L360.1 230L360.9 229.4L361.7 228.9L362.5 228.3L363.4 227.7L364.2 227.2L365 226.6L365.8 226L366.6 225.4L367.5 224.8L368.3 224.2L369.1 223.6L369.9 223L370.7 222.4L371.5 221.8L372.3 221.2L373.1 220.6L373.9 220L374.7 219.4L375.5 218.8L376.3 218.2L377.1 217.5L377.8 216.9L378.6 216.3L379.4 215.6L380.2 215L381 214.4L381.8 213.7L382.5 213.1L383.3 212.5L384.1 211.8L384.9 211.2L385.6 210.5L386.4 209.9L387.2 209.2L387.9 208.5L388.7 207.9L389.5 207.2L390.2 206.6L391 205.9L391.8 205.2L392.5 204.6L393.3 203.9L394 203.2L394.8 202.6L395.5 201.9L396.3 201.2L397.1 200.6L397.8 199.9L398.6 199.2L399.4 198.6L400.1 198L400.9 197.4L401.7 196.8L402.5 196.2L403.4 195.7L404.2 195.2L405 194.7L405.9 194.3L406.8 193.9L407.7 193.5L408.6 193.1L409.6 192.8L410.6 192.6L411.5 192.4L412.5 192.3L413.5 192.2L414.5 192.3L415.5 192.4L416.4 192.7L417.3 193L418.2 193.4L419 193.9L419.8 194.5L420.5 195.2L421.2 195.9L421.9 196.7L422.6 197.5L423.2 198.3L423.7 199.2L424.3 200.1L424.8 201L425.3 201.9L425.7 202.8L426.2 203.8L426.6 204.7L427 205.6L427.4 206.5L427.7 207.4L428.1 208.4L428.4 209.3L428.8 210.2L429.1 211.2L429.5 212.1L429.8 213L430.1 214L430.5 214.9L430.8 215.8L431.1 216.8L431.4 217.7L431.7 218.7L432 219.6L432.3 220.6L432.6 221.5L432.9 222.5L433.2 223.4L433.5 224.4L433.8 225.3L434 226.3L434.3 227.3L434.6 228.2L434.9 229.2L435.1 230.1L435.4 231.1L435.6 232.1L435.9 233L436.1 234L436.4 235L436.6 235.9L436.9 236.9L437.1 237.9L437.3 238.8L437.6 239.8L437.8 240.8L438 241.8L438.3 242.7L438.5 243.7L438.7 244.7L438.9 245.7L439.1 246.7L439.3 247.6L439.5 248.6L439.7 249.6L439.9 250.6L440.1 251.6L440.3 252.5L440.5 253.5L440.7 254.5L440.9 255.5L441.1 256.5L441.3 257.5L441.5 258.4L441.7 259.4L441.8 260.4L442 261.4L442.2 262.4L442.4 263.4L442.6 264.4L442.7 265.3L442.9 266.3L443.1 267.3L443.2 268.3L443.4 269.3L443.6 270.3L443.7 271.3L443.9 272.3L444.1 273.3L444.2 274.2L444.4 275.2L444.6 276.2L444.7 277.2L444.9 278.2L445 279.2L445.2 280.2L445.4 281.2L445.5 282.2L445.7 283.1L445.9 284.1L446 285.1L446.2 286.1L446.3 287.1L446.5 288.1L446.7 289.1L446.8 290.1L447 291L447.2 292L447.3 293L447.5 294L447.7 295L447.8 296L448 297L448.2 298L448.3 298.9L448.5 299.9L448.7 300.9L448.9 301.9L449 302.9L449.2 303.9L449.4 304.8L449.6 305.8L449.8 306.8L450 307.8L450.2 308.8L450.4 309.7L450.5 310.7L450.7 311.7L450.9 312.7L451.1 313.7L451.4 314.6L451.6 315.6L451.8 316.6L452 317.6L452.2 318.5L452.4 319.5L452.6 320.5L452.9 321.5L453.1 322.4L453.3 323.4L453.6 324.4L453.8 325.3L454 326.3L454.3 327.3L454.5 328.2L454.8 329.2L455 330.2L455.3 331.1L455.6 332.1L455.8 333L456.1 334L456.4 335L456.7 335.9L457 336.9L457.3 337.8L457.6 338.8L457.9 339.7L458.2 340.7L458.5 341.6L458.8 342.6L459.1 343.5L459.4 344.5L459.8 345.4L460.1 346.4L460.4 347.3L460.8 348.3L461.1 349.2L461.5 350.1L461.9 351.1L462.2 352L462.6 353L463 353.9L463.4 354.8L463.8 355.8L464.2 356.7L464.6 357.6L465 358.5L465.4 359.5L465.8 360.4L466.2 361.3L466.7 362.2L467.1 363.2L467.6 364.1L468.1 365L468.5 365.8L469.1 366.7L469.6 367.5L470.1 368.3L470.7 369.1L471.3 369.9L472 370.6L472.7 371.3L473.4 371.9L474.1 372.5L474.9 373.1L475.8 373.6L476.7 374L477.6 374.4L478.6 374.7L479.6 375L480.6 375.2L481.7 375.3L482.7 375.4L483.7 375.4L484.8 375.3L485.7 375.2L486.7 375L487.7 374.8L488.6 374.6L489.6 374.3L490.5 373.9L491.4 373.5L492.3 373.1L493.2 372.7L494.1 372.2L495 371.7L495.9 371.3L496.8 370.7L497.6 370.2L498.5 369.7L499.4 369.2L500.3 368.7L501.1 368.2L502 367.7L502.9 367.2L503.8 366.7L504.7 366.2L505.5 365.7L506.4 365.2L507.3 364.8L508.2 364.3L509.1 363.8L510 363.4L510.9 362.9L511.8 362.5L512.7 362L513.6 361.6L514.5 361.2L515.4 360.7L516.2 360.3L517.1 359.9L518 359.4L518.9 359L519.8 358.6L520.7 358.2L521.7 357.8L522.6 357.3L523.5 356.9L524.4 356.5L525.3 356.1L526.2 355.7L527.1 355.3L528 354.9L528.9 354.5L529.8 354.1L530.7 353.6L531.6 353.2L532.5 352.8L533.4 352.4L534.3 352L535.2 351.6L536.2 351.2L537.1 350.8L538 350.4L538.9 350L539.8 349.5L540.7 349.1L541.6 348.7L542.5 348.3L543.4 347.9L544.3 347.4L545.2 347L546.2 346.6L547.1 346.2L548 345.8L548.9 345.4L549.8 345L550.7 344.6L551.6 344.2L552.6 343.8L553.5 343.4L554.4 343L555.3 342.6L556.3 342.3L557.2 341.9L558.1 341.5L559.1 341.2L560 340.8L561 340.5L561.9 340.2L562.9 339.9L563.8 339.5L564.8 339.2L565.7 338.9L566.7 338.6L567.6 338.3L568.6 338L569.5 337.7L570.5 337.5L571.5 337.2L572.4 336.9L573.4 336.6L574.4 336.4L575.3 336.1L576.3 335.8L577.3 335.6L578.2 335.3L579.2 335.1L580.2 334.8L581.1 334.6L582.1 334.4L583.1 334.1L584.1 333.9L585 333.7L586 333.4L587 333.2L588 333L588.9 332.8L589.9 332.6L590.9 332.4L591.9 332.1L592.8 331.9L593.8 331.7L594.8 331.5L595.8 331.3L596.8 331.1L597.7 330.9L598.7 330.7L599.7 330.6L600.7 330.4L601.7 330.2L602.6 330L603.6 329.8L604.6 329.6L605.6 329.5L606.6 329.3L607.6 329.1L608.5 329L609.5 328.8L610.5 328.6L611.5 328.5L612.5 328.3L613.5 328.1L614.5 328L615.4 327.8L616.4 327.7L617.4 327.5L618.4 327.4L619.4 327.2L620.4 327.1L621.4 326.9L622.4 326.8L623.4 326.7L624.3 326.5L625.3 326.4L626.3 326.2L627.3 326.1L628.3 326L629.3 325.8L630.3 325.7L631.3 325.6L632.3 325.5L633.3 325.3L634.3 325.2L635.2 325.1L636.2 325L637.2 324.9L638.2 324.7L639.2 324.6L640.2 324.5L641.2 324.4L642.2 324.3L643.2 324.2L644.2 324L645.2 323.9L646.2 323.8L647.2 323.7L648.2 323.6L649.2 323.5L650.2 323.4L651.2 323.3L652.1 323.2L653.1 323.1L654.1 323L655.1 322.9L656.1 322.8L657.1 322.7L658.1 322.6L659.1 322.5L660.1 322.4L661.1 322.3L662.1 322.2L663.1 322.1L664.1 322L665.1 321.9L666.1 321.8L667.1 321.7L668.1 321.6L669.1 321.5L670.1 321.4L671.1 321.3L672.1 321.2L673.1 321.1L674.1 321L675.1 320.9L676.1 320.8L677 320.7L678 320.6L679 320.5L680 320.4L681 320.3L682 320.2L683 320.1L684 320L685 319.9L686 319.8L687 319.7L688 319.6L689 319.5L690 319.4L691 319.3L692 319.2L693 319.1L694 319L695 318.9L696 318.8L697 318.7L697.9 318.6L698.9 318.5L699.9 318.4L700.9 318.3L701.9 318.2L702.9 318.1L703.9 318L704.9 317.9L705.9 317.8L706.9 317.6L707.9 317.5L708.2 317.5" stroke="#008000" stroke-dasharray="0.2 6.53 6.43 6.53 6.43 6.55 6.45 6.55 6.45 6.56 6.47 6.57 6.48 6.58 6.49 6.59 6.51 6.62 6.52 6.66 6.56 6.71 6.66 6.81 6.81 7.01 7.09 7.34 7.39 7.69 7.75 8.08 8.11 8.36 8.45 8.64 8.08 7.13 6.51 8.15 7.34 7 6.79 6.82 6.66 6.73 6.6 6.63 6.53 6.62 6.5 6.6 6.49 6.59 6.5 6.6 6.52 6.62 6.55 6.7 6.63 6.81 6.75 6.94 6.97 7.23 8.07 7.35 6.45 6.89 7.33 7.49 7.19 7.26 7.03 7.16 6.99 7.2 6.99 7.05 6.82 6.81 6.66 6.71 6.56 6.66 6.52 6.6 6.5 6.58 6.46 6.56 6.45 6.55 6.43 6.53 6.43 6.53 6.43 6.53 6.43 6.53 6.43 52.73"/>
<path d="M113 543.3L114 543.2L115 543.2L116 543.1L117 543L118 543L119 542.9L120 542.8L121 542.8L122 542.7L123 542.6L124 542.6L125 542.5L126 542.4L127 542.4L128 542.3L129 542.2L130 542.1L131 542.1L132 542L133 541.9L134 541.9L135 541.8L136 541.7L137 541.7L138 541.6L139 541.5L140 541.4L141 541.4L142 541.3L143 541.2L144 541.2L145 541.1L146 541L147 540.9L148 540.9L149 540.8L150 540.7L150.9 540.6L151.9 540.6L152.9 540.5L153.9 540.4L154.9 540.3L155.9 540.3L156.9 540.2L157.9 540.1L158.9 540L159.9 540L160.9 539.9L161.9 539.8L162.9 539.7L163.9 539.7L164.9 539.6L165.9 539.5L166.9 539.4L167.9 539.3L168.9 539.3L169.9 539.2L170.9 539.1L171.8 539L172.8 538.9L173.8 538.9L174.8 538.8L175.8 538.7L176.8 538.6L177.8 538.5L178.8 538.5L179.8 538.4L180.8 538.3L181.8 538.2L182.8 538.1L183.8 538L184.8 538L185.8 537.9L186.8 537.8L187.8 537.7L188.8 537.6L189.7 537.5L190.7 537.4L191.7 537.4L192.7 537.3L193.7 537.2L194.7 537.1L195.7 537L196.7 536.9L197.7 536.8L198.7 536.7L199.7 536.7L200.7 536.6L201.7 536.5L202.7 536.4L203.7 536.3L204.7 536.2L205.7 536.1L206.6 536L207.6 535.9L208.6 535.8L209.6 535.7L210.6 535.6L211.6 535.5L212.6 535.4L213.6 535.3L214.6 535.3L215.6 535.2L216.6 535.1L217.6 535L218.6 534.9L219.6 534.8L220.6 534.7L221.6 534.6L222.6 534.5L223.6 534.4L224.6 534.3L225.6 534.2L226.6 534.1L227.5 534L228.5 533.9L229.5 533.8L230.5 533.6L231.5 533.5L232.5 533.4L233.5 533.3L234.5 533.2L235.5 533.1L236.5 533L237.5 532.9L238.5 532.8L239.5 532.7L240.5 532.6L241.5 532.5L242.5 532.3L243.5 532.2L244.5 532.1L245.5 532L246.5 531.9L247.5 531.8L248.5 531.7L249.5 531.5L250.5 531.4L251.5 531.3L252.5 531.2L253.5 531L254.5 530.9L255.5 530.8L256.4 530.7L257.4 530.5L258.4 530.4L259.4 530.3L260.4 530.1L261.4 530L262.4 529.9L263.4 529.7L264.4 529.6L265.4 529.4L266.4 529.3L267.4 529.2L268.4 529L269.4 528.9L270.3 528.7L271.3 528.6L272.3 528.4L273.3 528.2L274.3 528.1L275.3 527.9L276.3 527.8L277.3 527.6L278.3 527.4L279.2 527.3L280.2 527.1L281.2 526.9L282.2 526.7L283.2 526.6L284.2 526.4L285.2 526.2L286.1 526L287.1 525.8L288.1 525.6L289.1 525.4L290.1 525.2L291 525L292 524.8L293 524.6L294 524.4L294.9 524.2L295.9 524L296.9 523.8L297.9 523.6L298.8 523.3L299.8 523.1L300.8 522.9L301.8 522.7L302.7 522.4L303.7 522.2L304.7 522L305.6 521.7L306.6 521.5L307.6 521.2L308.5 521L309.5 520.7L310.5 520.5L311.4 520.2L312.4 519.9L313.3 519.7L314.3 519.4L315.3 519.1L316.2 518.8L317.2 518.5L318.1 518.3L319.1 518L320 517.7L321 517.4L321.9 517.1L322.9 516.8L323.8 516.5L324.8 516.2L325.7 515.8L326.7 515.5L327.6 515.2L328.6 514.9L329.5 514.5L330.4 514.2L331.4 513.9L332.3 513.5L333.2 513.2L334.2 512.8L335.1 512.4L336 512.1L337 511.7L337.9 511.3L338.8 511L339.7 510.6L340.7 510.2L341.6 509.8L342.5 509.4L343.4 509L344.3 508.6L345.3 508.2L346.2 507.8L347.1 507.4L348 507L348.9 506.6L349.8 506.1L350.7 505.7L351.6 505.2L352.5 504.8L353.4 504.4L354.3 503.9L355.2 503.4L356.1 503L357 502.5L357.9 502L358.7 501.6L359.6 501.1L360.5 500.6L361.4 500.1L362.3 499.6L363.1 499.1L364 498.6L364.9 498.1L365.7 497.6L366.6 497.1L367.5 496.5L368.3 496L369.2 495.5L370 495L370.9 494.4L371.7 493.9L372.6 493.4L373.4 492.8L374.3 492.3L375.1 491.7L375.9 491.2L376.8 490.7L377.6 490.1L378.4 489.6L379.3 489L380.1 488.5L380.9 487.9L381.7 487.4L382.6 486.8L383.4 486.3L384.2 485.7L385 485.1L385.8 484.6L386.6 484L387.4 483.4L388.3 482.9L389.1 482.3L389.9 481.7L390.7 481.2L391.5 480.6L392.3 480L393.1 479.4L393.9 478.8L394.7 478.3L395.6 477.7L396.4 477.1L397.2 476.5L398 475.9L398.8 475.3L399.6 474.7L400.4 474.1L401.3 473.5L402.1 472.9L402.9 472.3L403.8 471.7L404.6 471.2L405.5 470.6L406.4 470.1L407.3 469.7L408.2 469.2L409.1 468.9L410.1 468.5L411.1 468.2L412.1 468.1L413.1 468L414 468L415 468.1L415.9 468.4L416.7 468.8L417.5 469.3L418.2 470L418.9 470.7L419.5 471.5L420.1 472.3L420.6 473.1L421.2 474L421.7 474.9L422.2 475.8L422.7 476.6L423.2 477.5L423.7 478.4L424.2 479.3L424.6 480.2L425.1 481.1L425.5 482L425.9 482.9L426.3 483.8L426.7 484.7L427.1 485.6L427.5 486.6L427.8 487.5L428.2 488.4L428.5 489.4L428.9 490.3L429.2 491.2L429.5 492.2L429.8 493.1L430.1 494.1L430.4 495L430.7 496L431 496.9L431.3 497.9L431.5 498.9L431.8 499.8L432 500.8L432.3 501.8L432.5 502.7L432.8 503.7L433 504.7L433.2 505.7L433.4 506.6L433.6 507.6L433.8 508.6L434 509.6L434.2 510.6L434.4 511.6L434.6 512.5L434.8 513.5L435 514.5L435.2 515.5L435.4 516.5L435.5 517.5L435.7 518.5L435.9 519.5L436 520.5L436.2 521.5L436.4 522.4L436.5 523.4L436.7 524.4L436.9 525.4L437 526.4L437.2 527.4L437.4 528.4L437.5 529.4L437.7 530.4L437.9 531.4L438 532.4L438.2 533.3L438.4 534.3L438.5 535.3L438.7 536.3L438.9 537.3L439.1 538.3L439.2 539.3L439.4 540.2L439.6 541.2L439.8 542.2L439.9 543.2L440.1 544.2L440.3 545.2L440.5 546.1L440.6 547.1L440.8 548.1L441 549.1L441.2 550.1L441.4 551.1L441.5 552L441.7 553L441.9 554L442.1 555L442.3 556L442.4 556.9L442.6 557.9L442.8 558.9L443 559.9L443.2 560.9L443.3 561.8L443.5 562.8L443.7 563.8L443.9 564.8L444.1 565.8L444.2 566.7L444.4 567.7L444.6 568.7L444.8 569.7L445 570.7L445.1 571.6L445.3 572.6L445.5 573.6L445.7 574.6L445.9 575.6L446 576.5L446.2 577.5L446.4 578.5L446.6 579.5L446.7 580.5L446.9 581.5L447.1 582.5L447.3 583.4L447.4 584.4L447.6 585.4L447.8 586.4L448 587.4L448.1 588.4L448.3 589.4L448.5 590.3L448.7 591.3L448.8 592.3L449 593.3L449.2 594.3L449.4 595.3L449.5 596.3L449.7 597.3L449.9 598.2L450.1 599.2L450.3 600.2L450.4 601.2L450.6 602.2L450.8 603.2L451 604.2L451.2 605.1L451.4 606.1L451.6 607.1L451.8 608.1L452 609.1L452.2 610L452.4 611L452.6 612L452.8 613L453 614L453.3 614.9L453.5 615.9L453.7 616.9L454 617.8L454.2 618.8L454.4 619.8L454.7 620.8L454.9 621.7L455.2 622.7L455.5 623.6L455.7 624.6L456 625.6L456.3 626.5L456.6 627.5L456.9 628.4L457.2 629.4L457.5 630.3L457.8 631.3L458.1 632.2L458.4 633.2L458.7 634.1L459.1 635L459.4 636L459.8 636.9L460.1 637.8L460.5 638.7L461 639.7L461.4 640.6L461.8 641.5L462.3 642.4L462.9 643.3L463.4 644.2L464 645.1L464.6 645.9L465.2 646.8L465.9 647.6L466.6 648.3L467.4 648.9L468.2 649.5L469 650L469.8 650.4L470.6 650.7L471.5 650.9L472.5 651L473.4 650.9L474.3 650.8L475.3 650.5L476.3 650.2L477.3 649.8L478.2 649.4L479.2 648.9L480.1 648.5L481 648L481.9 647.5L482.8 647L483.6 646.5L484.5 645.9L485.3 645.4L486.1 644.8L487 644.3L487.8 643.7L488.6 643.1L489.3 642.5L490.1 641.8L490.9 641.2L491.7 640.6L492.4 639.9L493.2 639.3L493.9 638.6L494.7 638L495.4 637.3L496.2 636.6L496.9 636L497.7 635.3L498.4 634.6L499.2 634L499.9 633.3L500.7 632.7L501.5 632L502.2 631.4L503 630.7L503.8 630.1L504.6 629.5L505.4 628.9L506.2 628.3L507 627.7L507.8 627.2L508.6 626.6L509.5 626.1L510.3 625.6L511.2 625L512 624.5L512.9 624L513.8 623.6L514.6 623.1L515.5 622.6L516.4 622.1L517.3 621.7L518.2 621.2L519.1 620.8L520 620.3L520.9 619.9L521.8 619.4L522.7 619L523.6 618.5L524.5 618.1L525.4 617.7L526.3 617.2L527.2 616.8L528.1 616.3L529 615.9L529.9 615.5L530.8 615L531.7 614.6L532.6 614.1L533.4 613.6L534.3 613.2L535.2 612.7L536.1 612.3L537 611.8L537.9 611.4L538.8 610.9L539.7 610.5L540.6 610L541.5 609.6L542.4 609.2L543.3 608.7L544.2 608.3L545.1 607.9L546 607.5L546.9 607.1L547.8 606.7L548.7 606.3L549.7 605.9L550.6 605.5L551.5 605.1L552.4 604.8L553.4 604.4L554.3 604L555.2 603.6L556.2 603.3L557.1 602.9L558 602.6L559 602.2L559.9 601.9L560.9 601.5L561.8 601.2L562.7 600.9L563.7 600.5L564.6 600.2L565.6 599.9L566.5 599.6L567.5 599.3L568.4 599L569.4 598.7L570.4 598.4L571.3 598.1L572.3 597.8L573.2 597.5L574.2 597.2L575.2 596.9L576.1 596.6L577.1 596.4L578 596.1L579 595.8L580 595.6L580.9 595.3L581.9 595L582.9 594.8L583.8 594.5L584.8 594.3L585.8 594L586.8 593.8L587.7 593.6L588.7 593.3L589.7 593.1L590.6 592.9L591.6 592.7L592.6 592.4L593.6 592.2L594.5 592L595.5 591.8L596.5 591.6L597.5 591.4L598.4 591.2L599.4 591L600.4 590.8L601.4 590.6L602.4 590.4L603.3 590.2L604.3 590L605.3 589.8L606.3 589.6L607.3 589.5L608.2 589.3L609.2 589.1L610.2 588.9L611.2 588.8L612.2 588.6L613.2 588.4L614.2 588.3L615.1 588.1L616.1 588L617.1 587.8L618.1 587.7L619.1 587.5L620.1 587.4L621.1 587.2L622.1 587.1L623 586.9L624 586.8L625 586.7L626 586.5L627 586.4L628 586.3L629 586.1L630 586L631 585.9L632 585.8L633 585.7L634 585.5L634.9 585.4L635.9 585.3L636.9 585.2L637.9 585.1L638.9 585L639.9 584.9L640.9 584.8L641.9 584.6L642.9 584.5L643.9 584.4L644.9 584.3L645.9 584.2L646.9 584.1L647.9 584L648.9 583.9L649.9 583.9L650.9 583.8L651.9 583.7L652.9 583.6L653.9 583.5L654.9 583.4L655.9 583.3L656.9 583.2L657.9 583.1L658.9 583.1L659.9 583L660.9 582.9L661.9 582.8L662.9 582.7L663.8 582.7L664.8 582.6L665.8 582.5L666.8 582.4L667.8 582.4L668.8 582.3L669.8 582.2L670.8 582.1L671.8 582.1L672.8 582L673.8 581.9L674.8 581.8L675.8 581.8L676.8 581.7L677.8 581.6L678.8 581.6L679.8 581.5L680.8 581.4L681.8 581.4L682.8 581.3L683.8 581.2L684.8 581.2L685.8 581.1L686.8 581L687.8 581L688.8 580.9L689.8 580.8L690.8 580.8L691.8 580.7L692.8 580.6L693.8 580.6L694.8 580.5L695.8 580.4L696.8 580.4L697.8 580.3L698.8 580.2L699.8 580.2L700.8 580.1L701.8 580L702.8 579.9L703.8 579.9L704.8 579.8L705.8 579.7L706.8 579.7L707.8 579.6L708.8 579.5L709.8 579.5L710.7 579.4L711.7 579.3L712.7 579.2L713.7 579.2L714.6 579.1" stroke="#0000ff" stroke-dasharray="1 14.9 13.45 14.91 13.45 14.91 13.46 14.92 13.46 14.94 13.51 15.01 13.59 15.17 13.83 15.55 14.34 16.38 15.4 17.67 16.42 17.43 15.4 16.28 13.93 15.14 13.6 15.09 13.64 15.11 13.62 15.11 13.73 15.46 14.96 16.65 16.3 19.34 15.39 16.63 14.84 15.93 14.02 15.35 13.69 15.06 13.54 14.94 13.46 14.9 13.44 14.9 59.43 50"/>
<path d="M119.1 468L119.5 468L120.5 468L121.5 468L122.5 468L123.5 468L124.5 468L125.5 468L126.5 468L127.5 468L128.5 468L129.5 468L130.5 468L131.5 468L132.5 468L133.5 468L134.5 468L135.5 468L136.5 468L137.5 468L138.5 468L139.5 468L140.5 468L141.5 468L142.5 468L143.5 468L144.5 468L145.5 468L146.5 468L147.5 468L148.5 468L149.5 468L150.5 468L151.5 468L152.5 468L153.5 468L154.5 468L155.5 468L156.5 468L157.5 468L158.5 468L159.5 468L160.5 468L161.5 468L162.5 468L163.5 468L164.5 468L165.5 468L166.5 468L167.5 468L168.5 468L169.5 468L170.5 468L171.5 468L172.5 468L173.5 468L174.5 468L175.5 468L176.5 468L177.5 468L178.5 468L179.5 468L180.5 468L181.5 468L182.5 468L183.5 468L184.5 468L185.5 468L186.5 468L187.5 468L188.5 468L189.5 468L190.5 468L191.5 468L192.5 468L193.5 468L194.5 468L195.5 468L196.5 468L197.5 468L198.5 468L199.5 468L200.5 468L201.5 468L202.5 468L203.5 468L204.5 468L205.5 468L206.5 468L207.5 468L208.5 468L209.5 468L210.5 468L211.5 468L212.5 468L213.5 468L214.5 468L215.5 468L216.5 468L217.5 468L218.5 468L219.5 468L220.5 468L221.5 468L222.5 468L223.5 468L224.5 468L225.5 468L226.5 468L227.5 468L228.5 468L229.5 468L230.5 468L231.5 468L232.5 468L233.5 468L234.5 468L235.5 468L236.5 468L237.5 468L238.5 468L239.5 468L240.5 468L241.5 468L242.5 468L243.5 468L244.5 468L245.5 468L246.5 468L247.5 468L248.5 468L249.5 468L250.5 468L251.5 468L252.5 468L253.5 468L254.5 468L255.5 468L256.5 468L257.5 468L258.5 468L259.5 468L260.5 468L261.5 468L262.5 468L263.5 468L264.5 468L265.5 468L266.5 468L267.5 468L268.5 468L269.5 468L270.5 468L271.5 468L272.5 468L273.5 468L274.5 468L275.5 468L276.5 468L277.5 468L278.5 468L279.5 468L280.5 468L281.5 468L282.5 468L283.5 468L284.5 468L285.5 468L286.5 468L287.5 468L288.5 468L289.5 468L290.5 468L291.5 468L292.5 468L293.5 468L294.5 468L295.5 468L296.5 468L297.5 468L298.5 468L299.5 468L300.5 468L301.5 468L302.5 468L303.5 468L304.5 468L305.5 468L306.5 468L307.5 468L308.5 468L309.5 468L310.5 468L311.5 468L312.5 468L313.5 468L314.5 468L315.5 468L316.5 468L317.5 468L318.5 468L319.5 468L320.5 468L321.5 468L322.5 468L323.5 468L324.5 468L325.5 468L326.5 468L327.5 468L328.5 468L329.5 468L330.5 468L331.5 468L332.5 468L333.5 468L334.5 468L335.5 468L336.5 468L337.5 468L338.5 468L339.5 468L340.5 468L341.5 468L342.5 468L343.5 468L344.5 468L345.5 468L346.5 468L347.5 468L348.5 468L349.5 468L350.5 468L351.5 468L352.5 468L353.5 468L354.5 468L355.5 468L356.5 468L357.5 468L358.5 468L359.5 468L360.5 468L361.5 468L362.5 468L363.5 468L364.5 468L365.5 468L366.5 468L367.5 468L368.5 468L369.5 468L370.5 468L371.5 468L372.5 468L373.5 468L374.5 468L375.5 468L376.5 468L377.5 468L378.5 468L379.5 468L380.5 468L381.5 468L382.5 468L383.5 468L384.5 468L385.5 468L386.5 468L387.5 468L388.5 468L389.5 468L390.5 468L391.5 468L392.5 468L393.5 468L394.5 468L395.5 468L396.5 468L397.5 468L398.5 468L399.5 468L400.5 468L401.5 468L402.5 468L403.5 468L404.5 468L405.5 468L406.5 468L407.5 468L408.5 468L409.5 468L410.5 468L411.5 468L412.5 468L413.5 468L414.5 468L415.5 468L416.5 468L417.5 468L418.5 468L419.5 468L420.5 468L421.5 468L422.5 468L423.5 468L424.5 468L425.5 468L426.5 468L427.5 468L428.5 468L429.5 468L430.5 468L431.5 468L432.5 468L433.5 468L434.5 468L435.5 468L436.5 468L437.5 468L438.5 468L439.5 468L440.5 468L441.5 468L442.5 468L443.5 468L444.5 468L445.5 468L446.5 468L447.5 468L448.5 468L449.5 468L450.5 468L451.5 468L452.5 468L453.5 468L454.5 468L455.5 468L456.5 468L457.5 468L458.5 468L459.5 468L460.5 468L461.5 468L462.5 468L463.5 468L464.5 468L465.5 468L466.5 468L467.5 468L468.5 468L469.5 468L470.5 468L471.5 468L472.5 468L473.5 468L474.5 468L475.5 468L476.5 468L477.5 468L478.5 468L479.5 468L480.5 468L481.5 468L482.5 468L483.5 468L484.5 468L485.5 468L486.5 468L487.5 468L488.5 468L489.5 468L490.5 468L491.5 468L492.5 468L493.5 468L494.5 468L495.5 468L496.5 468L497.5 468L498.5 468L499.5 468L500.5 468L501.5 468L502.5 468L503.5 468L504.5 468L505.5 468L506.5 468L507.5 468L508.5 468L509.5 468L510.5 468L511.5 468L512.5 468L513.5 468L514.5 468L515.5 468L516.5 468L517.5 468L518.5 468L519.5 468L520.5 468L521.5 468L522.5 468L523.5 468L524.5 468L525.5 468L526.5 468L527.5 468L528.5 468L529.5 468L530.5 468L531.5 468L532.5 468L533.5 468L534.5 468L535.5 468L536.5 468L537.5 468L538.5 468L539.5 468L540.5 468L541.5 468L542.5 468L543.5 468L544.5 468L545.5 468L546.5 468L547.5 468L548.5 468L549.5 468L550.5 468L551.5 468L552.5 468L553.5 468L554.5 468L555.5 468L556.5 468L557.5 468L558.5 468L559.5 468L560.5 468L561.5 468L562.5 468L563.5 468L564.5 468L565.5 468L566.5 468L567.5 468L568.5 468L569.5 468L570.5 468L571.5 468L572.5 468L573.5 468L574.5 468L575.5 468L576.5 468L577.5 468L578.5 468L579.5 468L580.5 468L581.5 468L582.5 468L583.5 468L584.5 468L585.5 468L586.5 468L587.5 468L588.5 468L589.5 468L590.5 468L591.5 468L592.5 468L593.5 468L594.5 468L595.5 468L596.5 468L597.5 468L598.5 468L599.5 468L600.5 468L601.5 468L602.5 468L603.5 468L604.5 468L605.5 468L606.5 468L607.5 468L608.5 468L609.5 468L610.5 468L611.5 468L612.5 468L613.5 468L614.5 468L615.5 468L616.5 468L617.5 468L618.5 468L619.5 468L620.5 468L621.5 468L622.5 468L623.5 468L624.5 468L625.5 468L626.5 468L627.5 468L628.5 468L629.5 468L630.5 468L631.5 468L632.5 468L633.5 468L634.5 468L635.5 468L636.5 468L637.5 468L638.5 468L639.5 468L640.5 468L641.5 468L642.5 468L643.5 468L644.5 468L645.5 468L646.5 468L647.5 468L648.5 468L649.5 468L650.5 468L651.5 468L652.5 468L653.5 468L654.5 468L655.5 468L656.5 468L657.5 468L658.5 468L659.5 468L660.5 468L661.5 468L662.5 468L663.5 468L664.5 468L665.5 468L666.5 468L667.5 468L668.5 468L669.5 468L670.5 468L671.5 468L672.5 468L673.5 468L674.5 468L675.5 468L676.5 468L677.5 468L678.5 468L679.5 468L680.5 468L681.5 468L682.5 468L683.5 468L684.5 468L685.5 468L686.5 468L687.5 468L688.5 468L689.5 468L690.5 468L691.5 468L692.5 468L693.5 468L694.5 468L695.5 468L696.5 468L697.5 468L698.5 468L699.5 468L700.5 468L701.5 468L702.5 468L703.5 468L704.5 468L705.5 468L706.5 468L707.5 468L708.5 468L709.5 468L710.5 468L711.5 468L711.7 468" stroke="#ff0000" stroke-dasharray="3.7 13.14 3.7 13.14 3.7 13.14 3.7 13.14 3.7 13.14 3.7 13.14 3.7 13.14 3.7 13.14 3.7 13.14 3.7 13.14 3.7 13.14 3.7 13.14 3.7 13.14 3.7 13.14 3.7 13.14 3.7 13.14 3.7 13.14 3.7 13.14 3.7 13.14 3.7 13.14 3.7 13.14 3.7 13.14 3.7 13.14 3.7 13.14 3.7 13.14 3.7 13.14 3.7 13.14 3.7 13.14 3.7 13.14 3.7 13.14 3.7 13.14 3.7 13.14 3.7 13.14 3.7 13.14 3.7 13.14 53.2 50"/>
<path d="M116 643.4L117 643.3L118 643.3L119 643.2L120 643.1L120.9 643L121.9 643L122.9 642.9L123.9 642.8L124.9 642.8L125.9 642.7L126.9 642.6L127.9 642.6L128.9 642.5L129.9 642.4L130.9 642.4L131.9 642.3L132.9 642.2L133.9 642.2L134.9 642.1L135.8 642L136.8 641.9L137.8 641.9L138.8 641.8L139.8 641.7L140.8 641.7L141.8 641.6L142.8 641.5L143.8 641.5L144.8 641.4L145.8 641.3L146.8 641.3L147.8 641.2L148.8 641.1L149.8 641L150.8 641L151.8 640.9L152.8 640.8L153.8 640.8L154.8 640.7L155.8 640.6L156.8 640.5L157.8 640.5L158.8 640.4L159.8 640.3L160.8 640.2L161.8 640.2L162.8 640.1L163.8 640L164.8 639.9L165.8 639.8L166.8 639.8L167.8 639.7L168.8 639.6L169.8 639.5L170.8 639.4L171.8 639.3L172.8 639.3L173.8 639.2L174.8 639.1L175.8 639L176.8 638.9L177.8 638.8L178.8 638.7L179.8 638.6L180.8 638.5L181.8 638.4L182.8 638.3L183.8 638.2L184.8 638.1L185.8 638L186.8 637.9L187.8 637.8L188.8 637.7L189.8 637.6L190.8 637.5L191.8 637.4L192.8 637.3L193.8 637.2L194.8 637.1L195.8 637L196.8 636.9L197.8 636.7L198.8 636.6L199.8 636.5L200.8 636.4L201.8 636.3L202.7 636.1L203.7 636L204.7 635.9L205.7 635.7L206.7 635.6L207.7 635.5L208.7 635.3L209.7 635.2L210.7 635.1L211.7 634.9L212.7 634.8L213.7 634.6L214.7 634.5L215.6 634.3L216.6 634.2L217.6 634L218.6 633.9L219.6 633.7L220.6 633.6L221.6 633.4L222.6 633.2L223.5 633.1L224.5 632.9L225.5 632.7L226.5 632.6L227.5 632.4L228.5 632.2L229.5 632L230.4 631.8L231.4 631.7L232.4 631.5L233.4 631.3L234.4 631.1L235.3 630.9L236.3 630.7L237.3 630.5L238.3 630.3L239.3 630.1L240.2 629.9L241.2 629.7L242.2 629.5L243.2 629.3L244.1 629L245.1 628.8L246.1 628.6L247 628.4L248 628.1L249 627.9L250 627.7L250.9 627.4L251.9 627.2L252.9 627L253.8 626.7L254.8 626.5L255.8 626.2L256.7 626L257.7 625.7L258.6 625.4L259.6 625.2L260.6 624.9L261.5 624.6L262.5 624.4L263.4 624.1L264.4 623.8L265.4 623.5L266.3 623.2L267.3 622.9L268.2 622.6L269.2 622.3L270.1 622L271.1 621.7L272 621.4L273 621.1L273.9 620.8L274.9 620.5L275.8 620.2L276.8 619.9L277.7 619.5L278.7 619.2L279.6 618.9L280.5 618.5L281.5 618.2L282.4 617.8L283.4 617.5L284.3 617.1L285.2 616.8L286.2 616.4L287.1 616L288 615.7L289 615.3L289.9 614.9L290.8 614.5L291.7 614.1L292.7 613.7L293.6 613.3L294.5 612.9L295.4 612.5L296.3 612.1L297.2 611.7L298.1 611.3L299 610.8L299.9 610.4L300.8 610L301.7 609.5L302.6 609L303.5 608.6L304.4 608.1L305.3 607.6L306.1 607.2L307 606.7L307.9 606.2L308.7 605.7L309.6 605.2L310.4 604.6L311.3 604.1L312.1 603.6L313 603L313.8 602.5L314.6 601.9L315.4 601.4L316.3 600.8L317.1 600.2L317.9 599.6L318.7 599L319.5 598.4L320.3 597.8L321.1 597.2L321.8 596.6L322.6 595.9L323.4 595.3L324.1 594.6L324.9 594L325.6 593.3L326.4 592.6L327.1 591.9L327.9 591.2L328.6 590.6L329.3 589.9L330 589.1L330.7 588.4L331.5 587.7L332.2 587L332.9 586.3L333.5 585.5L334.2 584.8L334.9 584L335.6 583.3L336.3 582.5L336.9 581.8L337.6 581L338.3 580.3L338.9 579.5L339.6 578.7L340.2 578L340.8 577.2L341.5 576.4L342.1 575.6L342.7 574.8L343.3 574.1L344 573.3L344.6 572.5L345.2 571.7L345.8 570.9L346.4 570.1L347 569.3L347.6 568.4L348.1 567.6L348.7 566.8L349.3 566L349.9 565.2L350.4 564.4L351 563.5L351.6 562.7L352.1 561.9L352.7 561L353.2 560.2L353.8 559.4L354.3 558.5L354.9 557.7L355.4 556.9L355.9 556L356.5 555.2L357 554.3L357.5 553.5L358 552.6L358.5 551.8L359.1 550.9L359.6 550L360.1 549.2L360.6 548.3L361.1 547.5L361.6 546.6L362.1 545.7L362.6 544.9L363.1 544L363.5 543.1L364 542.3L364.5 541.4L365 540.5L365.5 539.6L365.9 538.8L366.4 537.9L366.9 537L367.4 536.1L367.8 535.3L368.3 534.4L368.8 533.5L369.2 532.6L369.7 531.7L370.1 530.8L370.6 530L371.1 529.1L371.5 528.2L372 527.3L372.4 526.4L372.9 525.5L373.3 524.6L373.8 523.8L374.3 522.9L374.7 522L375.2 521.1L375.6 520.2L376.1 519.3L376.5 518.4L377 517.5L377.4 516.7L377.9 515.8L378.3 514.9L378.8 514L379.3 513.1L379.7 512.2L380.2 511.3L380.6 510.4L381.1 509.6L381.6 508.7L382 507.8L382.5 506.9L383 506L383.5 505.1L383.9 504.2L384.4 503.4L384.9 502.5L385.4 501.6L385.8 500.7L386.3 499.8L386.8 499L387.3 498.1L387.8 497.2L388.3 496.3L388.8 495.5L389.3 494.6L389.8 493.7L390.3 492.8L390.8 492L391.4 491.1L391.9 490.2L392.4 489.4L392.9 488.5L393.5 487.7L394 486.8L394.5 485.9L395.1 485.1L395.6 484.2L396.2 483.4L396.8 482.6L397.3 481.7L397.9 480.9L398.5 480.1L399.1 479.3L399.7 478.5L400.4 477.7L401 477L401.7 476.2L402.3 475.5L403 474.7L403.7 474L404.4 473.3L405.1 472.7L405.9 472L406.6 471.4L407.4 470.8L408.2 470.2L409 469.6L409.8 469.1L410.7 468.6L411.6 468.3L412.5 468L413.5 467.9L414.4 467.9L415.4 468L416.4 468.2L417.4 468.6L418.3 469L419.2 469.4L420.1 469.9L420.9 470.5L421.7 471.1L422.4 471.7L423.2 472.4L423.8 473.1L424.5 473.8L425.2 474.6L425.8 475.4L426.4 476.2L427 477L427.6 477.8L428.2 478.7L428.7 479.5L429.3 480.3L429.9 481.2L430.4 482L430.9 482.9L431.5 483.7L432 484.6L432.5 485.5L433.1 486.3L433.6 487.2L434.1 488L434.6 488.9L435.1 489.8L435.6 490.7L436.1 491.5L436.6 492.4L437.1 493.3L437.6 494.2L438 495.1L438.5 495.9L439 496.8L439.4 497.7L439.9 498.6L440.4 499.5L440.8 500.4L441.3 501.3L441.7 502.2L442.2 503.1L442.6 504L443 504.9L443.5 505.8L443.9 506.7L444.4 507.6L444.8 508.5L445.2 509.4L445.7 510.3L446.1 511.2L446.5 512.1L446.9 513L447.4 513.9L447.8 514.8L448.2 515.7L448.6 516.6L449.1 517.5L449.5 518.4L449.9 519.4L450.3 520.3L450.7 521.2L451.2 522.1L451.6 523L452 523.9L452.4 524.8L452.9 525.7L453.3 526.6L453.7 527.5L454.1 528.4L454.6 529.3L455 530.2L455.4 531.1L455.9 532L456.3 532.9L456.7 533.8L457.2 534.6L457.6 535.5L458.1 536.4L458.5 537.3L459 538.2L459.4 539.1L459.9 540L460.3 540.9L460.8 541.7L461.3 542.6L461.7 543.5L462.2 544.4L462.6 545.2L463.1 546.1L463.6 547L464.1 547.9L464.6 548.7L465 549.6L465.5 550.5L466 551.3L466.5 552.2L467 553.1L467.5 553.9L468 554.8L468.5 555.6L469 556.5L469.5 557.4L470 558.2L470.5 559.1L471 559.9L471.6 560.8L472.1 561.6L472.6 562.5L473.1 563.3L473.7 564.2L474.2 565L474.8 565.9L475.3 566.7L475.8 567.6L476.4 568.4L476.9 569.3L477.5 570.1L478.1 570.9L478.6 571.8L479.2 572.6L479.8 573.4L480.3 574.3L480.9 575.1L481.5 575.9L482.1 576.8L482.7 577.6L483.3 578.4L483.9 579.2L484.5 580L485.1 580.8L485.7 581.6L486.3 582.4L486.9 583.2L487.5 584L488.2 584.8L488.8 585.6L489.4 586.4L490.1 587.2L490.7 587.9L491.4 588.7L492 589.5L492.7 590.2L493.4 591L494 591.7L494.7 592.5L495.4 593.2L496.1 593.9L496.8 594.7L497.5 595.4L498.2 596.1L498.9 596.8L499.6 597.5L500.3 598.2L501 598.9L501.8 599.5L502.5 600.2L503.2 600.9L504 601.5L504.7 602.2L505.5 602.8L506.2 603.5L507 604.1L507.8 604.7L508.6 605.3L509.3 605.9L510.1 606.5L510.9 607.1L511.7 607.7L512.6 608.2L513.4 608.8L514.2 609.4L515 609.9L515.9 610.4L516.7 610.9L517.5 611.5L518.4 612L519.3 612.5L520.1 612.9L521 613.4L521.9 613.9L522.7 614.4L523.6 614.8L524.5 615.3L525.4 615.7L526.3 616.1L527.2 616.6L528.1 617L529 617.4L529.9 617.8L530.8 618.2L531.8 618.6L532.7 619L533.6 619.4L534.5 619.8L535.5 620.1L536.4 620.5L537.4 620.8L538.3 621.2L539.2 621.6L540.2 621.9L541.1 622.2L542.1 622.6L543 622.9L544 623.2L545 623.5L545.9 623.8L546.9 624.2L547.8 624.5L548.8 624.8L549.8 625.1L550.7 625.4L551.7 625.7L552.7 625.9L553.6 626.2L554.6 626.5L555.6 626.8L556.5 627.1L557.5 627.3L558.5 627.6L559.4 627.9L560.4 628.1L561.4 628.4L562.3 628.7L563.3 628.9L564.3 629.2L565.3 629.4L566.2 629.7L567.2 629.9L568.2 630.2L569.1 630.4L570.1 630.6L571.1 630.9L572 631.1L573 631.3L574 631.6L575 631.8L575.9 632L576.9 632.2L577.9 632.5L578.9 632.7L579.8 632.9L580.8 633.1L581.8 633.3L582.8 633.5L583.7 633.7L584.7 633.9L585.7 634.1L586.7 634.3L587.6 634.5L588.6 634.7L589.6 634.9L590.6 635.1L591.5 635.3L592.5 635.4L593.5 635.6L594.5 635.8L595.5 636L596.4 636.1L597.4 636.3L598.4 636.5L599.4 636.6L600.4 636.8L601.4 637L602.3 637.1L603.3 637.3L604.3 637.4L605.3 637.6L606.3 637.8L607.3 637.9L608.2 638.1L609.2 638.2L610.2 638.3L611.2 638.5L612.2 638.6L613.2 638.8L614.2 638.9L615.2 639L616.2 639.2L617.1 639.3L618.1 639.4L619.1 639.6L620.1 639.7L621.1 639.8L622.1 639.9L623.1 640L624.1 640.2L625.1 640.3L626.1 640.4L627.1 640.5L628.1 640.6L629.1 640.7L630 640.8L631 640.9L632 641L633 641.1L634 641.2L635 641.3L636 641.4L637 641.5L638 641.6L639 641.7L640 641.8L641 641.9L642 642L643 642.1L644 642.2L645 642.3L646 642.4L647 642.4L648 642.5L649 642.6L650 642.7L651 642.8L652 642.8L653 642.9L654 643L655 643.1L656 643.1L657 643.2L658 643.3L659 643.3L660 643.4L661 643.5L662 643.5L663 643.6L664 643.7L665 643.7L666 643.8L667 643.9L668 643.9L669 644L670 644L671 644.1L672 644.2L673 644.2L674 644.3L675 644.3L676 644.4L677 644.4L678 644.5L679 644.5L680 644.6L681 644.6L682 644.7L683 644.7L684 644.8L685 644.8L686 644.9L687 644.9L688 645L689 645L690 645L691 645.1L692 645.1L693 645.2L694 645.2L695 645.3L696 645.3L697 645.3L698 645.4L699 645.4L700 645.5L701 645.5L702 645.5L703 645.6L704 645.6L705 645.6L706 645.7L707 645.7L707.9 645.8L708.9 645.8L709.9 645.8L710.9 645.9L711.7 645.9" stroke="#000000"/>
<path d="M116.8 618.7L117.5 618.6L118.5 618.5L119.5 618.4L120.5 618.3L121.5 618.2L122.5 618.1L123.4 618.1L124.4 618L125.4 617.9L126.4 617.8L127.4 617.7L128.4 617.6L129.4 617.5L130.4 617.4L131.4 617.3L132.4 617.2L133.4 617.1L134.4 617L135.4 616.9L136.4 616.8L137.4 616.7L138.4 616.6L139.3 616.5L140.3 616.4L141.3 616.3L142.3 616.2L143.3 616.1L144.3 616L145.3 615.9L146.3 615.8L147.3 615.7L148.3 615.6L149.3 615.5L150.3 615.4L151.3 615.3L152.3 615.1L153.3 615L154.3 614.9L155.3 614.8L156.3 614.7L157.3 614.6L158.3 614.5L159.2 614.4L160.2 614.3L161.2 614.1L162.2 614L163.2 613.9L164.2 613.8L165.2 613.7L166.2 613.6L167.2 613.4L168.2 613.3L169.2 613.2L170.2 613.1L171.2 612.9L172.2 612.8L173.2 612.7L174.2 612.6L175.2 612.4L176.1 612.3L177.1 612.2L178.1 612L179.1 611.9L180.1 611.8L181.1 611.6L182.1 611.5L183.1 611.4L184.1 611.2L185.1 611.1L186.1 610.9L187.1 610.8L188.1 610.6L189 610.5L190 610.4L191 610.2L192 610.1L193 609.9L194 609.8L195 609.6L196 609.4L197 609.3L198 609.1L198.9 609L199.9 608.8L200.9 608.7L201.9 608.5L202.9 608.3L203.9 608.2L204.9 608L205.8 607.8L206.8 607.6L207.8 607.5L208.8 607.3L209.8 607.1L210.8 606.9L211.8 606.8L212.7 606.6L213.7 606.4L214.7 606.2L215.7 606L216.7 605.8L217.7 605.7L218.6 605.5L219.6 605.3L220.6 605.1L221.6 604.9L222.6 604.7L223.5 604.5L224.5 604.3L225.5 604.1L226.5 603.9L227.5 603.7L228.4 603.5L229.4 603.3L230.4 603L231.4 602.8L232.3 602.6L233.3 602.4L234.3 602.2L235.3 601.9L236.2 601.7L237.2 601.5L238.2 601.3L239.2 601L240.1 600.8L241.1 600.6L242.1 600.3L243 600.1L244 599.9L245 599.6L245.9 599.4L246.9 599.1L247.9 598.9L248.8 598.6L249.8 598.4L250.8 598.1L251.7 597.8L252.7 597.6L253.7 597.3L254.6 597.1L255.6 596.8L256.6 596.5L257.5 596.2L258.5 596L259.4 595.7L260.4 595.4L261.4 595.1L262.3 594.8L263.3 594.6L264.2 594.3L265.2 594L266.1 593.7L267.1 593.4L268 593.1L269 592.8L270 592.5L270.9 592.2L271.9 591.9L272.8 591.6L273.8 591.2L274.7 590.9L275.7 590.6L276.6 590.3L277.5 590L278.5 589.6L279.4 589.3L280.4 589L281.3 588.6L282.3 588.3L283.2 588L284.2 587.6L285.1 587.3L286 586.9L287 586.6L287.9 586.2L288.8 585.8L289.8 585.5L290.7 585.1L291.6 584.7L292.6 584.4L293.5 584L294.4 583.6L295.3 583.2L296.3 582.8L297.2 582.4L298.1 582L299 581.6L299.9 581.2L300.8 580.8L301.7 580.3L302.6 579.9L303.5 579.5L304.4 579L305.3 578.6L306.2 578.1L307.1 577.7L307.9 577.2L308.8 576.7L309.7 576.2L310.6 575.7L311.4 575.2L312.3 574.7L313.1 574.2L314 573.7L314.8 573.2L315.7 572.7L316.5 572.1L317.3 571.6L318.2 571L319 570.4L319.8 569.9L320.6 569.3L321.4 568.7L322.2 568.1L323 567.5L323.8 566.9L324.6 566.3L325.4 565.6L326.2 565L327 564.4L327.7 563.7L328.5 563.1L329.3 562.5L330 561.8L330.8 561.1L331.6 560.5L332.3 559.8L333.1 559.2L333.8 558.5L334.6 557.8L335.4 557.2L336.1 556.5L336.9 555.8L337.6 555.1L338.4 554.5L339.1 553.8L339.8 553.1L340.6 552.4L341.3 551.8L342.1 551.1L342.8 550.4L343.6 549.7L344.3 549L345 548.3L345.7 547.7L346.5 547L347.2 546.3L347.9 545.6L348.6 544.9L349.3 544.2L350 543.5L350.7 542.8L351.4 542L352.1 541.3L352.8 540.6L353.5 539.9L354.2 539.1L354.9 538.4L355.5 537.7L356.2 536.9L356.8 536.2L357.5 535.4L358.1 534.7L358.8 533.9L359.4 533.2L360 532.4L360.7 531.6L361.3 530.8L361.9 530.1L362.5 529.3L363.1 528.5L363.8 527.7L364.4 526.9L365 526.1L365.6 525.3L366.2 524.5L366.7 523.7L367.3 522.9L367.9 522.1L368.5 521.3L369.1 520.5L369.7 519.7L370.2 518.9L370.8 518.1L371.4 517.3L372 516.4L372.5 515.6L373.1 514.8L373.7 514L374.2 513.2L374.8 512.3L375.4 511.5L375.9 510.7L376.5 509.8L377 509L377.6 508.2L378.1 507.3L378.7 506.5L379.3 505.7L379.8 504.8L380.4 504L380.9 503.2L381.5 502.3L382 501.5L382.6 500.6L383.1 499.8L383.7 499L384.3 498.1L384.8 497.3L385.4 496.4L385.9 495.6L386.5 494.8L387.1 493.9L387.6 493.1L388.2 492.3L388.8 491.4L389.3 490.6L389.9 489.8L390.5 488.9L391 488.1L391.6 487.3L392.2 486.4L392.8 485.6L393.4 484.8L394 484L394.6 483.2L395.2 482.4L395.8 481.6L396.4 480.8L397 480L397.7 479.3L398.3 478.5L399 477.7L399.7 477L400.3 476.3L401 475.6L401.8 474.9L402.5 474.2L403.2 473.5L404 472.9L404.8 472.3L405.6 471.6L406.4 471.1L407.2 470.5L408.1 469.9L408.9 469.4L409.8 468.9L410.7 468.5L411.6 468.2L412.6 468L413.5 467.9L414.5 468L415.4 468.2L416.3 468.5L417.3 468.8L418.1 469.3L419 469.8L419.8 470.3L420.5 470.9L421.3 471.6L422 472.2L422.6 472.9L423.3 473.7L423.9 474.5L424.5 475.3L425 476.1L425.6 476.9L426.1 477.8L426.6 478.7L427.1 479.6L427.6 480.5L428.1 481.4L428.6 482.3L429.1 483.2L429.5 484.1L430 485L430.4 486L430.9 486.9L431.3 487.8L431.8 488.7L432.2 489.6L432.6 490.5L433.1 491.5L433.5 492.4L433.9 493.3L434.3 494.2L434.7 495.2L435.2 496.1L435.6 497L436 497.9L436.4 498.9L436.7 499.8L437.1 500.7L437.5 501.6L437.9 502.6L438.3 503.5L438.7 504.4L439 505.3L439.4 506.3L439.8 507.2L440.1 508.1L440.5 509.1L440.9 510L441.2 510.9L441.6 511.9L441.9 512.8L442.3 513.7L442.7 514.7L443 515.6L443.3 516.5L443.7 517.5L444 518.4L444.4 519.3L444.7 520.3L445.1 521.2L445.4 522.1L445.8 523.1L446.1 524L446.4 524.9L446.8 525.9L447.1 526.8L447.4 527.7L447.8 528.7L448.1 529.6L448.4 530.5L448.8 531.5L449.1 532.4L449.5 533.3L449.8 534.3L450.1 535.2L450.5 536.1L450.8 537.1L451.1 538L451.5 538.9L451.8 539.9L452.2 540.8L452.5 541.7L452.8 542.7L453.2 543.6L453.5 544.5L453.9 545.5L454.2 546.4L454.6 547.3L454.9 548.3L455.3 549.2L455.6 550.1L456 551.1L456.4 552L456.7 552.9L457.1 553.9L457.5 554.8L457.8 555.7L458.2 556.6L458.6 557.6L458.9 558.5L459.3 559.4L459.7 560.3L460.1 561.3L460.5 562.2L460.9 563.1L461.3 564L461.7 565L462 565.9L462.4 566.8L462.8 567.7L463.3 568.6L463.7 569.5L464.1 570.5L464.5 571.4L464.9 572.3L465.3 573.2L465.7 574.1L466.1 575L466.6 575.9L467 576.8L467.4 577.8L467.9 578.7L468.3 579.6L468.7 580.5L469.2 581.4L469.6 582.3L470.1 583.2L470.5 584.1L471 585L471.4 585.9L471.9 586.8L472.3 587.7L472.8 588.5L473.3 589.4L473.7 590.3L474.2 591.2L474.7 592.1L475.2 593L475.6 593.9L476.1 594.8L476.6 595.6L477.1 596.5L477.6 597.4L478.1 598.3L478.6 599.1L479.1 600L479.6 600.9L480.1 601.7L480.6 602.6L481.2 603.4L481.7 604.3L482.2 605.1L482.8 605.9L483.3 606.8L483.9 607.6L484.5 608.4L485 609.2L485.6 610L486.2 610.8L486.8 611.6L487.4 612.4L488 613.2L488.6 614L489.3 614.7L489.9 615.5L490.6 616.3L491.2 617L491.9 617.7L492.6 618.4L493.3 619.2L494 619.9L494.7 620.6L495.4 621.3L496.2 621.9L496.9 622.6L497.7 623.2L498.4 623.9L499.2 624.5L500 625.2L500.8 625.8L501.6 626.4L502.4 627L503.2 627.6L504.1 628.2L504.9 628.7L505.7 629.3L506.6 629.8L507.4 630.4L508.3 630.9L509.2 631.5L510 632L510.9 632.5L511.8 633L512.6 633.5L513.5 634L514.4 634.4L515.3 634.9L516.2 635.3L517.1 635.8L518 636.2L518.9 636.7L519.8 637.1L520.7 637.5L521.6 637.9L522.5 638.3L523.4 638.7L524.4 639.1L525.3 639.4L526.2 639.8L527.1 640.2L528 640.5L529 640.9L529.9 641.2L530.8 641.5L531.8 641.9L532.7 642.2L533.7 642.5L534.6 642.8L535.5 643.1L536.5 643.4L537.4 643.6L538.4 643.9L539.4 644.2L540.3 644.5L541.3 644.7L542.2 645L543.2 645.2L544.1 645.4L545.1 645.7L546.1 645.9L547 646.1L548 646.3L549 646.5L550 646.7L550.9 646.9L551.9 647.1L552.9 647.3L553.9 647.5L554.9 647.7L555.8 647.8L556.8 648L557.8 648.1L558.8 648.3L559.8 648.4L560.8 648.6L561.8 648.7L562.8 648.9L563.7 649L564.7 649.1L565.7 649.2L566.7 649.4L567.7 649.5L568.7 649.6L569.7 649.7L570.7 649.8L571.7 649.9L572.7 650L573.7 650.1L574.7 650.2L575.7 650.3L576.7 650.3L577.7 650.4L578.7 650.5L579.7 650.6L580.7 650.6L581.8 650.7L582.8 650.7L583.8 650.8L584.8 650.9L585.8 650.9L586.8 651L587.8 651L588.8 651.1L589.8 651.1L590.8 651.1L591.8 651.2L592.8 651.2L593.8 651.3L594.9 651.3L595.9 651.3L596.9 651.4L597.9 651.4L598.9 651.4L599.9 651.4L600.9 651.5L601.9 651.5L602.9 651.5L603.9 651.5L604.9 651.5L605.9 651.6L606.9 651.6L607.9 651.6L608.9 651.6L610 651.6L611 651.6L612 651.6L613 651.7L614 651.7L615 651.7L616 651.7L617 651.7L618 651.7L619 651.7L620 651.7L621 651.7L622 651.7L623 651.7L624 651.7L625 651.7L626 651.7L627 651.7L628 651.7L629 651.7L630 651.7L630.9 651.7L631.9 651.7L632.9 651.7L633.9 651.7L634.9 651.7L635.9 651.7L636.9 651.7L637.9 651.7L638.9 651.7L639.9 651.7L640.9 651.7L641.9 651.7L642.9 651.6L643.9 651.6L644.9 651.6L645.9 651.6L646.9 651.6L647.9 651.6L648.9 651.6L649.9 651.6L650.9 651.6L651.8 651.5L652.8 651.5L653.8 651.5L654.8 651.5L655.8 651.5L656.8 651.5L657.8 651.5L658.8 651.4L659.8 651.4L660.8 651.4L661.8 651.4L662.8 651.4L663.8 651.4L664.8 651.3L665.8 651.3L666.8 651.3L667.8 651.3L668.8 651.3L669.8 651.3L670.7 651.2L671.7 651.2L672.7 651.2L673.7 651.2L674.7 651.2L675.7 651.1L676.7 651.1L677.7 651.1L678.7 651.1L679.7 651.1L680.7 651.1L681.7 651L682.7 651L683.7 651L684.7 651L685.7 651L686.7 650.9L687.7 650.9L688.7 650.9L689.7 650.9L690.7 650.9L691.7 650.8L692.7 650.8L693.7 650.8L694.7 650.8L695.7 650.8L696.7 650.7L697.7 650.7L698.7 650.7L699.7 650.7L700.7 650.7L701.7 650.7L702.7 650.6L703.8 650.6L704.8 650.6L705.8 650.6L706.8 650.6L707.8 650.6L708.8 650.5L709.8 650.5L710.8 650.5L711.7 650.5" stroke="#008000" stroke-dasharray="6.43 6.83 6.43 6.83 6.43 6.85 6.45 6.85 6.46 6.86 6.48 6.89 6.48 6.91 6.52 6.92 6.54 6.99 6.58 7.02 6.62 7.1 6.69 7.16 6.79 7.27 6.9 7.46 7.17 7.86 7.75 8.68 8.46 9.14 8.77 9.48 8.49 8.67 7.93 8.28 7.73 8.15 7.7 8.26 8.02 9.23 7.8 7.04 7.9 8.14 7.21 7.53 6.98 7.37 6.86 7.28 6.82 7.23 6.81 7.25 6.87 7.32 6.94 7.46 7.08 7.58 7.25 7.78 7.49 8.35 8.46 9.15 7.94 7.97 7.18 7.39 6.84 7.1 6.63 6.94 6.5 6.87 6.45 6.83 6.42 6.81 6.41 6.81 6.4 6.8 6.4 6.8 6.4 6.8 6.4 6.8 6.41 6.81 6.4 6.8 6.4 6.81 6.4 6.8 51.1 50"/>
<path d="M112.4 867.2L113.4 867.1L114.4 867L115.4 867L116.4 866.9L117.4 866.8L118.4 866.7L119.4 866.6L120.4 866.5L121.4 866.5L122.4 866.4L123.3 866.3L124.3 866.2L125.3 866.1L126.3 866L127.3 866L128.3 865.9L129.3 865.8L130.3 865.7L131.3 865.6L132.3 865.5L133.3 865.4L134.3 865.3L135.3 865.3L136.3 865.2L137.3 865.1L138.3 865L139.3 864.9L140.3 864.8L141.3 864.7L142.3 864.6L143.3 864.5L144.3 864.4L145.3 864.3L146.3 864.2L147.3 864.1L148.2 864L149.2 863.9L150.2 863.8L151.2 863.7L152.2 863.6L153.2 863.5L154.2 863.4L155.2 863.3L156.2 863.2L157.2 863.1L158.2 863L159.2 862.9L160.2 862.8L161.2 862.7L162.2 862.6L163.2 862.5L164.2 862.4L165.2 862.3L166.2 862.1L167.2 862L168.2 861.9L169.1 861.8L170.1 861.7L171.1 861.6L172.1 861.5L173.1 861.3L174.1 861.2L175.1 861.1L176.1 861L177.1 860.9L178.1 860.7L179.1 860.6L180.1 860.5L181.1 860.4L182.1 860.2L183.1 860.1L184 860L185 859.8L186 859.7L187 859.6L188 859.4L189 859.3L190 859.2L191 859L192 858.9L193 858.8L194 858.6L194.9 858.5L195.9 858.3L196.9 858.2L197.9 858L198.9 857.9L199.9 857.7L200.9 857.6L201.9 857.4L202.9 857.3L203.9 857.1L204.8 857L205.8 856.8L206.8 856.7L207.8 856.5L208.8 856.4L209.8 856.2L210.8 856L211.7 855.9L212.7 855.7L213.7 855.5L214.7 855.4L215.7 855.2L216.7 855L217.7 854.9L218.6 854.7L219.6 854.5L220.6 854.3L221.6 854.1L222.6 854L223.6 853.8L224.5 853.6L225.5 853.4L226.5 853.2L227.5 853.1L228.5 852.9L229.5 852.7L230.4 852.5L231.4 852.3L232.4 852.1L233.4 851.9L234.4 851.7L235.3 851.5L236.3 851.3L237.3 851.1L238.3 850.9L239.2 850.7L240.2 850.5L241.2 850.3L242.2 850.1L243.2 849.8L244.1 849.6L245.1 849.4L246.1 849.2L247.1 849L248 848.8L249 848.5L250 848.3L250.9 848.1L251.9 847.8L252.9 847.6L253.9 847.4L254.8 847.2L255.8 846.9L256.8 846.7L257.7 846.4L258.7 846.2L259.7 846L260.7 845.7L261.6 845.5L262.6 845.2L263.6 845L264.5 844.7L265.5 844.5L266.5 844.2L267.4 843.9L268.4 843.7L269.4 843.4L270.3 843.1L271.3 842.9L272.2 842.6L273.2 842.3L274.2 842.1L275.1 841.8L276.1 841.5L277.1 841.2L278 841L279 840.7L279.9 840.4L280.9 840.1L281.9 839.8L282.8 839.5L283.8 839.2L284.7 838.9L285.7 838.6L286.6 838.3L287.6 838L288.5 837.7L289.5 837.4L290.4 837.1L291.4 836.8L292.4 836.5L293.3 836.2L294.2 835.8L295.2 835.5L296.1 835.2L297.1 834.8L298 834.5L299 834.1L299.9 833.8L300.8 833.4L301.8 833.1L302.7 832.7L303.6 832.3L304.5 832L305.5 831.6L306.4 831.2L307.3 830.8L308.2 830.4L309.1 829.9L310 829.5L310.9 829.1L311.8 828.7L312.7 828.2L313.6 827.8L314.5 827.3L315.4 826.8L316.2 826.4L317.1 825.9L318 825.4L318.9 824.9L319.7 824.4L320.6 823.9L321.4 823.4L322.3 822.9L323.2 822.4L324 821.9L324.9 821.4L325.7 820.8L326.6 820.3L327.4 819.8L328.3 819.2L329.1 818.7L329.9 818.2L330.8 817.6L331.6 817.1L332.4 816.5L333.3 815.9L334.1 815.4L334.9 814.8L335.8 814.2L336.6 813.7L337.4 813.1L338.2 812.5L339 811.9L339.8 811.3L340.6 810.7L341.4 810.1L342.2 809.5L343 808.9L343.8 808.3L344.6 807.7L345.4 807.1L346.2 806.5L347 805.9L347.8 805.2L348.5 804.6L349.3 804L350.1 803.3L350.8 802.7L351.6 802L352.4 801.4L353.1 800.7L353.9 800.1L354.6 799.4L355.4 798.8L356.1 798.1L356.9 797.4L357.6 796.7L358.3 796.1L359.1 795.4L359.8 794.7L360.5 794L361.2 793.3L361.9 792.6L362.7 791.9L363.4 791.2L364.1 790.5L364.8 789.8L365.5 789.1L366.2 788.3L366.8 787.6L367.5 786.9L368.2 786.2L368.9 785.4L369.6 784.7L370.2 784L370.9 783.2L371.6 782.5L372.2 781.7L372.9 781L373.6 780.2L374.2 779.5L374.9 778.7L375.5 778L376.2 777.2L376.9 776.5L377.5 775.7L378.2 775L378.8 774.2L379.5 773.5L380.1 772.7L380.8 772L381.5 771.2L382.1 770.4L382.8 769.7L383.5 769L384.1 768.2L384.8 767.5L385.5 766.7L386.1 766L386.8 765.2L387.5 764.5L388.2 763.8L388.9 763L389.5 762.3L390.2 761.6L390.9 760.9L391.6 760.2L392.4 759.5L393.1 758.7L393.8 758L394.5 757.3L395.2 756.7L396 756L396.7 755.3L397.5 754.6L398.2 753.9L399 753.3L399.7 752.6L400.5 752L401.3 751.3L402.1 750.7L402.9 750L403.7 749.4L404.5 748.8L405.3 748.2L406.2 747.7L407 747.1L407.9 746.6L408.7 746.2L409.6 745.8L410.5 745.5L411.4 745.2L412.3 745.1L413.3 745L414.2 745L415.2 745.1L416.1 745.3L417.1 745.6L418 745.9L418.9 746.4L419.8 746.9L420.7 747.4L421.5 748.1L422.3 748.7L423 749.5L423.7 750.2L424.3 751L424.9 751.8L425.5 752.7L426 753.6L426.6 754.5L427 755.4L427.5 756.3L428 757.2L428.4 758.1L428.8 759.1L429.2 760L429.6 760.9L430 761.8L430.4 762.8L430.8 763.7L431.2 764.6L431.5 765.5L431.9 766.4L432.2 767.4L432.6 768.3L432.9 769.2L433.3 770.1L433.6 771.1L434 772L434.3 772.9L434.6 773.9L434.9 774.8L435.3 775.7L435.6 776.7L435.9 777.6L436.2 778.5L436.6 779.5L436.9 780.4L437.2 781.4L437.5 782.3L437.8 783.3L438.1 784.2L438.4 785.2L438.7 786.1L439 787.1L439.3 788.1L439.6 789L439.9 790L440.2 790.9L440.5 791.9L440.8 792.9L441.1 793.8L441.4 794.8L441.7 795.7L442 796.7L442.3 797.7L442.6 798.6L442.8 799.6L443.1 800.6L443.4 801.5L443.7 802.5L444 803.5L444.2 804.4L444.5 805.4L444.8 806.3L445.1 807.3L445.4 808.3L445.6 809.2L445.9 810.2L446.2 811.2L446.5 812.1L446.7 813.1L447 814L447.3 815L447.5 816L447.8 816.9L448.1 817.9L448.4 818.9L448.6 819.8L448.9 820.8L449.2 821.7L449.4 822.7L449.7 823.7L450 824.6L450.3 825.6L450.5 826.5L450.8 827.5L451.1 828.5L451.4 829.4L451.6 830.4L451.9 831.3L452.2 832.3L452.5 833.2L452.7 834.2L453 835.2L453.3 836.1L453.6 837.1L453.9 838L454.1 839L454.4 839.9L454.7 840.9L455 841.8L455.3 842.8L455.6 843.8L455.9 844.7L456.2 845.7L456.4 846.6L456.7 847.6L457 848.5L457.3 849.5L457.6 850.4L457.9 851.4L458.2 852.3L458.5 853.3L458.8 854.2L459.2 855.2L459.5 856.1L459.8 857.1L460.1 858L460.4 859L460.7 859.9L461 860.8L461.4 861.8L461.7 862.7L462 863.7L462.3 864.6L462.7 865.6L463 866.5L463.4 867.5L463.7 868.4L464 869.3L464.4 870.3L464.7 871.2L465.1 872.2L465.4 873.1L465.8 874L466.2 875L466.5 875.9L466.9 876.8L467.3 877.8L467.6 878.7L468 879.6L468.4 880.6L468.8 881.5L469.2 882.4L469.5 883.4L469.9 884.3L470.3 885.2L470.7 886.2L471.1 887.1L471.6 888L472 888.9L472.4 889.9L472.8 890.8L473.2 891.7L473.7 892.6L474.1 893.5L474.6 894.4L475 895.3L475.5 896.2L476 897.1L476.4 898L476.9 898.9L477.4 899.8L477.9 900.6L478.4 901.5L479 902.3L479.5 903.2L480 904L480.6 904.8L481.2 905.6L481.8 906.4L482.3 907.2L483 908L483.6 908.8L484.2 909.5L484.8 910.2L485.5 911L486.2 911.7L486.9 912.4L487.6 913.1L488.3 913.7L489 914.4L489.8 915L490.5 915.7L491.3 916.3L492.1 916.9L492.9 917.5L493.7 918L494.6 918.6L495.4 919.1L496.3 919.6L497.2 920.1L498 920.6L498.9 921L499.8 921.5L500.8 921.9L501.7 922.3L502.6 922.7L503.5 923.1L504.5 923.4L505.4 923.8L506.4 924.1L507.4 924.4L508.3 924.7L509.3 924.9L510.3 925.2L511.2 925.4L512.2 925.6L513.2 925.8L514.2 926L515.2 926.2L516.2 926.3L517.2 926.4L518.2 926.6L519.1 926.7L520.1 926.7L521.1 926.8L522.1 926.9L523.1 926.9L524.1 927L525.1 927L526.1 927L527.1 927L528.1 927.1L529.1 927.1L530.1 927L531.1 927L532.1 927L533.1 927L534.1 927L535.1 926.9L536.1 926.9L537.1 926.9L538.1 926.8L539.1 926.8L540.1 926.7L541.1 926.7L542.1 926.6L543.1 926.6L544.1 926.5L545.1 926.4L546.1 926.4L547.1 926.3L548.1 926.2L549.1 926.1L550.1 926L551.1 926L552.1 925.9L553.1 925.8L554.1 925.7L555.1 925.6L556.1 925.5L557.1 925.4L558.1 925.3L559.1 925.2L560.1 925.1L561.1 925L562 924.9L563 924.8L564 924.7L565 924.6L566 924.5L567 924.4L568 924.3L569 924.2L570 924.1L571 924L572 923.9L573 923.8L574 923.7L575 923.6L576 923.5L577 923.4L578 923.3L578.9 923.2L579.9 923L580.9 922.9L581.9 922.8L582.9 922.7L583.9 922.6L584.9 922.5L585.9 922.4L586.9 922.3L587.9 922.2L588.9 922.1L589.9 922L590.9 921.9L591.9 921.8L592.9 921.7L593.9 921.6L594.9 921.5L595.9 921.4L596.8 921.3L597.8 921.2L598.8 921.1L599.8 921L600.8 920.9L601.8 920.8L602.8 920.7L603.8 920.6L604.8 920.5L605.8 920.4L606.8 920.3L607.8 920.2L608.8 920.1L609.8 920L610.8 919.9L611.8 919.8L612.8 919.7L613.8 919.6L614.8 919.5L615.8 919.4L616.7 919.3L617.7 919.2L618.7 919.1L619.7 919L620.7 918.9L621.7 918.8L622.7 918.7L623.7 918.6L624.7 918.5L625.7 918.4L626.7 918.3L627.7 918.2L628.7 918.1L629.7 918L630.7 917.9L631.7 917.8L632.7 917.7L633.7 917.6L634.7 917.5L635.7 917.4L636.7 917.3L637.7 917.2L638.6 917.1L639.6 917.1L640.6 917L641.6 916.9L642.6 916.8L643.6 916.7L644.6 916.6L645.6 916.5L646.6 916.4L647.6 916.3L648.6 916.2L649.6 916.2L650.6 916.1L651.6 916L652.6 915.9L653.6 915.8L654.6 915.7L655.6 915.6L656.6 915.6L657.6 915.5L658.6 915.4L659.6 915.3L660.6 915.2L661.6 915.1L662.6 915.1L663.6 915L664.5 914.9L665.5 914.8L666.5 914.7L667.5 914.7L668.5 914.6L669.5 914.5L670.5 914.4L671.5 914.3L672.5 914.3L673.5 914.2L674.5 914.1L675.5 914L676.5 914L677.5 913.9L678.5 913.8L679.5 913.7L680.5 913.7L681.5 913.6L682.5 913.5L683.5 913.5L684.5 913.4L685.5 913.3L686.5 913.2L687.5 913.2L688.5 913.1L689.5 913L690.5 913L691.5 912.9L692.5 912.9L693.5 912.8L694.5 912.7L695.5 912.7L696.5 912.6L697.5 912.5L698.5 912.5L699.5 912.4L700.5 912.4L701.5 912.3L702.5 912.2L703.5 912.2L704.5 912.1L705.5 912.1L706.4 912L707.4 912L708.4 911.9L709.4 911.9L710.4 911.8L711.4 911.7L712.4 911.7L713.4 911.6L714.4 911.6" stroke="#0000ff" stroke-dasharray="0.6 14.91 13.46 14.93 13.48 14.97 13.55 15.05 13.63 15.14 13.75 15.36 13.97 15.64 14.53 17.03 16.14 18.96 18.4 19.93 18.18 19.33 14.31 17.49 14.36 15.61 14 15.46 13.94 15.49 14.09 15.82 14.54 16.8 17.49 16.84 13.71 14.88 13.44 14.92 13.47 14.94 13.47 14.93 13.47 14.92 13.46 14.91 13.45 14.89 60.58 50"/>
<path d="M113.5 828.1L114.5 828L115.5 827.9L116.5 827.8L117.5 827.7L118.4 827.6L119.4 827.5L120.4 827.4L121.4 827.3L122.4 827.2L123.4 827.1L124.4 827L125.4 826.9L126.4 826.9L127.4 826.8L128.4 826.7L129.4 826.6L130.4 826.5L131.3 826.4L132.3 826.3L133.3 826.2L134.3 826.1L135.3 826.1L136.3 826L137.3 825.9L138.3 825.8L139.3 825.7L140.3 825.6L141.3 825.5L142.3 825.5L143.3 825.4L144.3 825.3L145.3 825.2L146.3 825.1L147.3 825L148.3 825L149.3 824.9L150.3 824.8L151.3 824.7L152.3 824.6L153.3 824.6L154.3 824.5L155.3 824.4L156.3 824.3L157.2 824.2L158.2 824.2L159.2 824.1L160.2 824L161.2 823.9L162.2 823.8L163.2 823.8L164.2 823.7L165.2 823.6L166.2 823.5L167.2 823.4L168.2 823.4L169.2 823.3L170.2 823.2L171.2 823.1L172.2 823L173.2 823L174.2 822.9L175.2 822.8L176.2 822.7L177.2 822.6L178.2 822.6L179.2 822.5L180.2 822.4L181.2 822.3L182.2 822.2L183.2 822.1L184.2 822L185.2 822L186.2 821.9L187.2 821.8L188.2 821.7L189.2 821.6L190.2 821.5L191.2 821.4L192.2 821.4L193.2 821.3L194.2 821.2L195.2 821.1L196.2 821L197.2 820.9L198.2 820.8L199.2 820.7L200.2 820.6L201.2 820.5L202.2 820.4L203.2 820.3L204.2 820.2L205.2 820.2L206.2 820.1L207.2 820L208.2 819.9L209.2 819.8L210.2 819.7L211.2 819.5L212.2 819.4L213.2 819.3L214.2 819.2L215.2 819.1L216.2 819L217.2 818.9L218.2 818.8L219.2 818.7L220.2 818.6L221.2 818.5L222.1 818.4L223.1 818.2L224.1 818.1L225.1 818L226.1 817.9L227.1 817.8L228.1 817.7L229.1 817.5L230.1 817.4L231.1 817.3L232.1 817.2L233.1 817L234.1 816.9L235.1 816.8L236.1 816.6L237 816.5L238 816.4L239 816.2L240 816.1L241 816L242 815.8L243 815.7L244 815.5L245 815.4L246 815.3L246.9 815.1L247.9 815L248.9 814.8L249.9 814.7L250.9 814.5L251.9 814.3L252.9 814.2L253.8 814L254.8 813.9L255.8 813.7L256.8 813.5L257.8 813.4L258.8 813.2L259.8 813L260.7 812.9L261.7 812.7L262.7 812.5L263.7 812.3L264.7 812.2L265.6 812L266.6 811.8L267.6 811.6L268.6 811.4L269.6 811.2L270.5 811L271.5 810.9L272.5 810.7L273.5 810.5L274.5 810.3L275.4 810.1L276.4 809.9L277.4 809.7L278.4 809.4L279.3 809.2L280.3 809L281.3 808.8L282.3 808.6L283.2 808.4L284.2 808.2L285.2 807.9L286.1 807.7L287.1 807.5L288.1 807.2L289 807L290 806.8L291 806.5L291.9 806.3L292.9 806.1L293.9 805.8L294.8 805.6L295.8 805.3L296.8 805.1L297.7 804.8L298.7 804.6L299.7 804.3L300.6 804L301.6 803.8L302.6 803.5L303.5 803.2L304.5 803L305.4 802.7L306.4 802.4L307.3 802.1L308.3 801.8L309.3 801.5L310.2 801.3L311.2 801L312.1 800.7L313.1 800.4L314 800.1L315 799.8L315.9 799.5L316.9 799.1L317.8 798.8L318.8 798.5L319.7 798.2L320.7 797.9L321.6 797.6L322.6 797.2L323.5 796.9L324.5 796.6L325.4 796.2L326.4 795.9L327.3 795.5L328.3 795.2L329.2 794.8L330.2 794.5L331.1 794.1L332 793.8L333 793.4L333.9 793L334.9 792.7L335.8 792.3L336.7 791.9L337.7 791.5L338.6 791.2L339.5 790.8L340.5 790.4L341.4 790L342.3 789.6L343.3 789.2L344.2 788.8L345.1 788.3L346 787.9L346.9 787.5L347.8 787L348.7 786.6L349.6 786.2L350.5 785.7L351.4 785.2L352.3 784.8L353.1 784.3L354 783.8L354.9 783.3L355.7 782.8L356.6 782.3L357.4 781.8L358.3 781.3L359.1 780.8L360 780.2L360.8 779.7L361.6 779.2L362.4 778.6L363.3 778.1L364.1 777.5L364.9 777L365.7 776.4L366.5 775.8L367.3 775.2L368.1 774.7L368.9 774.1L369.7 773.5L370.5 772.9L371.3 772.3L372.1 771.7L372.9 771.1L373.7 770.5L374.5 769.9L375.3 769.3L376 768.7L376.8 768.1L377.6 767.4L378.4 766.8L379.2 766.2L379.9 765.6L380.7 764.9L381.5 764.3L382.3 763.7L383.1 763.1L383.8 762.4L384.6 761.8L385.4 761.1L386.2 760.5L386.9 759.9L387.7 759.2L388.5 758.6L389.3 757.9L390.1 757.3L390.9 756.7L391.7 756L392.4 755.4L393.2 754.7L394 754.1L394.8 753.5L395.6 752.8L396.4 752.2L397.2 751.6L398 750.9L398.9 750.3L399.7 749.7L400.5 749.2L401.3 748.6L402.2 748.1L403 747.6L403.9 747.1L404.8 746.7L405.7 746.3L406.6 745.9L407.5 745.6L408.4 745.4L409.3 745.2L410.3 745L411.3 744.9L412.3 744.9L413.3 744.9L414.3 745L415.3 745.2L416.4 745.5L417.3 745.8L418.3 746.2L419.2 746.6L420.1 747.2L420.9 747.8L421.6 748.5L422.2 749.2L422.8 750L423.3 750.9L423.8 751.7L424.3 752.6L424.8 753.5L425.2 754.4L425.7 755.3L426.1 756.2L426.5 757.1L426.9 758L427.3 758.9L427.7 759.8L428.1 760.7L428.4 761.7L428.8 762.6L429.1 763.5L429.4 764.5L429.8 765.4L430.1 766.4L430.4 767.3L430.7 768.3L431 769.2L431.3 770.2L431.5 771.1L431.8 772.1L432.1 773.1L432.3 774L432.5 775L432.8 776L433 777L433.3 777.9L433.5 778.9L433.7 779.9L433.9 780.9L434.1 781.9L434.3 782.8L434.5 783.8L434.7 784.8L434.9 785.8L435.1 786.8L435.3 787.8L435.5 788.8L435.7 789.8L435.9 790.7L436.1 791.7L436.3 792.7L436.5 793.7L436.7 794.7L436.9 795.7L437.1 796.7L437.3 797.6L437.5 798.6L437.6 799.6L437.8 800.6L438 801.6L438.2 802.6L438.4 803.5L438.6 804.5L438.8 805.5L439 806.5L439.2 807.5L439.4 808.4L439.6 809.4L439.8 810.4L440 811.4L440.2 812.4L440.4 813.3L440.6 814.3L440.8 815.3L441 816.3L441.1 817.2L441.3 818.2L441.5 819.2L441.7 820.2L441.9 821.2L442.1 822.1L442.3 823.1L442.5 824.1L442.7 825.1L442.9 826L443.1 827L443.3 828L443.4 829L443.6 830L443.8 830.9L444 831.9L444.2 832.9L444.4 833.9L444.6 834.9L444.8 835.8L444.9 836.8L445.1 837.8L445.3 838.8L445.5 839.8L445.7 840.8L445.9 841.7L446 842.7L446.2 843.7L446.4 844.7L446.6 845.7L446.8 846.7L447 847.6L447.2 848.6L447.3 849.6L447.5 850.6L447.7 851.6L447.9 852.6L448.1 853.5L448.3 854.5L448.5 855.5L448.7 856.5L448.8 857.5L449 858.5L449.2 859.4L449.4 860.4L449.6 861.4L449.8 862.4L450 863.4L450.2 864.4L450.4 865.3L450.6 866.3L450.8 867.3L451 868.3L451.2 869.3L451.4 870.2L451.6 871.2L451.8 872.2L452 873.2L452.2 874.2L452.4 875.1L452.6 876.1L452.8 877.1L453 878.1L453.2 879.1L453.5 880L453.7 881L453.9 882L454.1 883L454.3 883.9L454.6 884.9L454.8 885.9L455 886.9L455.3 887.8L455.5 888.8L455.8 889.8L456 890.7L456.3 891.7L456.5 892.7L456.8 893.6L457 894.6L457.3 895.5L457.6 896.5L457.9 897.5L458.2 898.4L458.5 899.4L458.8 900.3L459.1 901.3L459.4 902.2L459.7 903.2L460 904.1L460.4 905L460.7 906L461.1 906.9L461.4 907.9L461.8 908.8L462.2 909.7L462.6 910.6L463 911.6L463.4 912.5L463.8 913.4L464.2 914.3L464.6 915.2L465.1 916.1L465.6 917L466.1 917.9L466.6 918.7L467.2 919.5L467.8 920.4L468.4 921.1L469.1 921.9L469.8 922.6L470.6 923.3L471.4 923.9L472.3 924.5L473.2 925L474.1 925.5L475 925.9L476 926.3L477 926.6L478 926.8L479 926.9L479.9 927L480.9 926.9L481.9 926.8L482.8 926.6L483.8 926.3L484.7 926L485.6 925.7L486.6 925.3L487.5 924.9L488.4 924.6L489.3 924.2L490.2 923.8L491.2 923.4L492.1 923L493 922.6L493.9 922.2L494.8 921.8L495.7 921.4L496.6 921L497.5 920.5L498.4 920.1L499.3 919.7L500.2 919.2L501.1 918.8L502 918.3L502.9 917.9L503.7 917.4L504.6 917L505.5 916.5L506.4 916L507.3 915.6L508.2 915.1L509.1 914.6L510 914.2L510.8 913.7L511.7 913.2L512.6 912.7L513.5 912.3L514.4 911.8L515.3 911.3L516.2 910.9L517.1 910.4L517.9 909.9L518.8 909.5L519.7 909L520.6 908.5L521.5 908.1L522.4 907.6L523.3 907.1L524.2 906.7L525.1 906.2L526 905.8L526.9 905.3L527.8 904.9L528.7 904.5L529.6 904L530.5 903.6L531.4 903.2L532.3 902.7L533.2 902.3L534.1 901.9L535 901.5L535.9 901.1L536.8 900.7L537.8 900.3L538.7 899.9L539.6 899.5L540.5 899.1L541.4 898.7L542.4 898.4L543.3 898L544.2 897.6L545.1 897.2L546.1 896.9L547 896.5L547.9 896.2L548.9 895.8L549.8 895.5L550.7 895.1L551.7 894.8L552.6 894.4L553.6 894.1L554.5 893.8L555.4 893.4L556.4 893.1L557.3 892.8L558.3 892.5L559.2 892.1L560.2 891.8L561.1 891.5L562.1 891.2L563 890.9L564 890.6L564.9 890.3L565.9 890L566.8 889.7L567.8 889.5L568.8 889.2L569.7 888.9L570.7 888.6L571.6 888.3L572.6 888.1L573.6 887.8L574.5 887.5L575.5 887.3L576.4 887L577.4 886.8L578.4 886.5L579.3 886.2L580.3 886L581.3 885.7L582.3 885.5L583.2 885.3L584.2 885L585.2 884.8L586.1 884.6L587.1 884.3L588.1 884.1L589.1 883.9L590 883.7L591 883.4L592 883.2L593 883L593.9 882.8L594.9 882.6L595.9 882.4L596.9 882.2L597.9 882L598.9 881.8L599.8 881.6L600.8 881.4L601.8 881.2L602.8 881L603.8 880.8L604.7 880.6L605.7 880.4L606.7 880.2L607.7 880.1L608.7 879.9L609.7 879.7L610.7 879.5L611.6 879.4L612.6 879.2L613.6 879L614.6 878.8L615.6 878.7L616.6 878.5L617.6 878.4L618.6 878.2L619.6 878L620.5 877.9L621.5 877.7L622.5 877.6L623.5 877.4L624.5 877.3L625.5 877.1L626.5 877L627.5 876.8L628.5 876.7L629.5 876.5L630.4 876.4L631.4 876.3L632.4 876.1L633.4 876L634.4 875.9L635.4 875.7L636.4 875.6L637.4 875.5L638.4 875.3L639.4 875.2L640.4 875.1L641.4 874.9L642.3 874.8L643.3 874.7L644.3 874.6L645.3 874.5L646.3 874.3L647.3 874.2L648.3 874.1L649.3 874L650.3 873.9L651.3 873.8L652.3 873.7L653.3 873.5L654.2 873.4L655.2 873.3L656.2 873.2L657.2 873.1L658.2 873L659.2 872.9L660.2 872.8L661.2 872.7L662.2 872.6L663.2 872.5L664.2 872.4L665.2 872.3L666.2 872.2L667.2 872.1L668.1 872L669.1 871.9L670.1 871.8L671.1 871.7L672.1 871.6L673.1 871.6L674.1 871.5L675.1 871.4L676.1 871.3L677.1 871.2L678.1 871.1L679.1 871L680.1 870.9L681.1 870.9L682.1 870.8L683.1 870.7L684.1 870.6L685.1 870.5L686.1 870.5L687.1 870.4L688 870.3L689 870.2L690 870.1L691 870.1L692 870L693 869.9L694 869.8L695 869.8L696 869.7L697 869.6L698 869.5L699 869.5L700 869.4L701 869.3L702 869.2L703 869.2L704 869.1L705 869L706 869L707 868.9L708 868.8L709 868.8L710 868.7L711 868.6L712 868.6L713 868.5L714 868.4L714.4 868.4" stroke="#ff0000" stroke-dasharray="1.81 13.23 3.72 13.23 3.71 13.23 3.71 13.22 3.72 13.23 3.72 13.25 3.72 13.27 3.73 13.31 3.75 13.38 3.76 13.45 3.78 13.58 3.85 13.74 3.91 13.98 3.96 14.4 4.14 15.44 4.55 16.68 4.79 16.93 4.46 13.85 3.93 15.38 3.99 13.76 3.81 13.44 3.77 13.43 3.78 13.43 3.76 13.41 3.78 13.41 3.77 13.44 3.8 13.57 3.86 14.02 4.04 15.9 3.85 13.86 4.05 14.77 4.22 14.85 4.12 14.41 4 14.04 3.88 13.73 3.84 13.54 3.78 13.42 3.76 13.34 3.75 13.3 3.73 13.25 3.72 13.23 3.71 13.23 3.71 13.22 53.3 50"/>
<path d="M117 743.3L118 743.3L119 743.3L120 743.3L121 743.3L122 743.3L123 743.3L124 743.3L125 743.3L126 743.3L127 743.3L128 743.3L129 743.3L130 743.3L131 743.3L132 743.3L133 743.3L134 743.3L135 743.3L136 743.3L137 743.3L138 743.3L139 743.3L140 743.3L141 743.3L142 743.3L143 743.3L144 743.3L145 743.3L146 743.3L147 743.3L148 743.3L149 743.3L150 743.3L151 743.3L152 743.3L153 743.3L154 743.3L155 743.3L156 743.3L157 743.3L158 743.3L159 743.3L160 743.3L161 743.3L162 743.3L163 743.3L164 743.3L165 743.3L166 743.3L167 743.3L168 743.3L169 743.3L170 743.3L171 743.3L172 743.3L173 743.3L174 743.3L175 743.3L176 743.3L177 743.3L178 743.3L179 743.3L180 743.3L181 743.3L182 743.3L183 743.3L184 743.3L185 743.3L186 743.3L187 743.3L188 743.3L189 743.3L190 743.3L191 743.3L192 743.3L193 743.3L194 743.3L195 743.3L196 743.3L197 743.3L198 743.3L199 743.3L200 743.3L201 743.3L202 743.3L203 743.3L204 743.3L205 743.3L206 743.3L207 743.3L208 743.3L209 743.3L210 743.3L211 743.3L212 743.3L213 743.3L214 743.3L215 743.3L216 743.3L217 743.3L218 743.3L219 743.3L220 743.3L221 743.3L222 743.3L223 743.3L224 743.3L225 743.3L226 743.3L227 743.3L228 743.3L229 743.3L230 743.3L231 743.3L232 743.3L233 743.3L234 743.3L235 743.3L236 743.3L237 743.3L238 743.3L239 743.3L240 743.3L241 743.3L242 743.3L243 743.3L244 743.3L245 743.3L246 743.3L247 743.3L248 743.3L249 743.3L250 743.3L251 743.3L252 743.3L253 743.3L254 743.3L255 743.3L256 743.3L257 743.3L258 743.3L259 743.3L260 743.3L261 743.3L262 743.3L263 743.3L264 743.3L265 743.3L266 743.3L267 743.3L268 743.3L269 743.3L270 743.3L271 743.3L272 743.3L273 743.3L274 743.3L275 743.3L276 743.3L277 743.3L278 743.3L279 743.3L280 743.3L281 743.3L282 743.3L283 743.3L284 743.3L285 743.3L286 743.3L287 743.3L288 743.3L289 743.3L290 743.3L291 743.3L292 743.3L293 743.3L294 743.3L295 743.3L296 743.3L297 743.3L298 743.3L299 743.3L300 743.3L301 743.3L302 743.3L303 743.3L304 743.3L305 743.3L306 743.3L307 743.3L308 743.3L309 743.3L310 743.3L311 743.3L312 743.3L313 743.3L314 743.3L315 743.3L316 743.3L317 743.3L318 743.3L319 743.3L320 743.3L321 743.3L322 743.3L323 743.3L324 743.3L325 743.3L326 743.3L327 743.3L328 743.3L329 743.3L330 743.3L331 743.3L332 743.3L333 743.3L334 743.3L335 743.3L336 743.3L337 743.3L338 743.3L339 743.3L340 743.3L341 743.3L342 743.3L343 743.3L344 743.3L345 743.3L346 743.3L347 743.3L348 743.3L349 743.3L350 743.3L351 743.3L352 743.3L353 743.3L354 743.3L355 743.3L356 743.3L357 743.3L358 743.3L359 743.3L360 743.3L361 743.3L362 743.3L363 743.3L364 743.3L365 743.3L366 743.3L367 743.3L368 743.3L369 743.3L370 743.3L371 743.3L372 743.3L373 743.3L374 743.3L375 743.3L376 743.3L377 743.3L378 743.3L379 743.3L380 743.3L381 743.3L382 743.3L383 743.3L384 743.3L385 743.3L386 743.3L387 743.3L388 743.3L389 743.3L390 743.3L391 743.3L392 743.3L393 743.3L394 743.3L395 743.3L396 743.3L397 743.3L398 743.3L399 743.3L400 743.3L401 743.3L402 743.3L403 743.3L404 743.3L405 743.3L406 743.3L407 743.3L408 743.3L409 743.3L410 743.3L411 743.3L412 743.4L413 743.5L414 743.7L415 743.8L416 743.9L417 743.9L418 743.9L419 743.9L420 743.9L421 743.9L422 743.9L423 743.9L424 743.9L425 743.9L426 743.9L427 743.9L428 743.9L429 743.9L430 743.9L431 743.9L432 743.9L433 743.9L434 743.9L435 743.9L436 743.9L437 743.9L438 743.9L439 743.9L440 743.9L441 743.9L442 743.9L443 743.9L444 743.9L445 743.9L446 743.9L447 743.9L448 743.9L449 743.9L450 743.9L451 743.9L452 743.9L453 743.9L454 743.9L455 743.9L456 743.9L457 743.9L458 743.9L459 743.9L460 743.9L461 743.9L462 743.9L463 743.9L464 743.9L465 743.9L466 743.9L467 743.9L468 743.9L469 743.9L470 743.9L471 743.9L472 743.9L473 743.9L474 743.9L475 743.9L476 743.9L477 743.9L478 743.9L479 743.9L480 743.9L481 743.9L482 743.9L483 743.9L484 743.9L485 743.9L486 743.9L487 743.9L488 743.9L489 743.9L490 743.9L491 743.9L492 743.9L493 743.9L494 743.9L495 743.9L496 743.9L497 743.9L498 743.9L499 743.9L500 743.9L501 743.9L502 743.9L503 743.9L504 743.9L505 743.9L506 743.9L507 743.9L508 743.9L509 743.9L510 743.9L511 743.9L512 743.9L513 743.9L514 743.9L515 743.9L516 743.9L517 743.9L518 743.9L519 743.9L520 743.9L521 743.9L522 743.9L523 743.9L524 743.9L525 743.9L526 743.9L527 743.9L528 743.9L529 743.9L530 743.9L531 743.9L532 743.9L533 743.9L534 743.9L535 743.9L536 743.9L537 743.9L538 743.9L539 743.9L540 743.9L541 743.9L542 743.9L543 743.9L544 743.9L545 743.9L546 743.9L547 743.9L548 743.9L549 743.9L550 743.9L551 743.9L552 743.9L553 743.9L554 743.9L555 743.9L556 743.9L557 743.9L558 743.9L559 743.9L560 743.9L561 743.9L562 743.9L563 743.9L564 743.9L565 743.9L566 743.9L567 743.9L568 743.9L569 743.9L570 743.9L571 743.9L572 743.9L573 743.9L574 743.9L575 743.9L576 743.9L577 743.9L578 743.9L579 743.9L580 743.9L581 743.9L582 743.9L583 743.9L584 743.9L585 743.9L586 743.9L587 743.9L588 743.9L589 743.9L590 743.9L591 743.9L592 743.9L593 743.9L594 743.9L595 743.9L596 743.9L597 743.9L598 743.9L599 743.9L600 743.9L601 743.9L602 743.9L603 743.9L604 743.9L605 743.9L606 743.9L607 743.9L608 743.9L609 743.9L610 743.9L611 743.9L612 743.9L613 743.9L614 743.9L615 743.9L616 743.9L617 743.9L618 743.9L619 743.9L620 743.9L621 743.9L622 743.9L623 743.9L624 743.9L625 743.9L626 743.9L627 743.9L628 743.9L629 743.9L630 743.9L631 743.9L632 743.9L633 743.9L634 743.9L635 743.9L636 743.9L637 743.9L638 743.9L639 743.9L640 743.9L641 743.9L642 743.9L643 743.9L644 743.9L645 743.9L646 743.9L647 743.9L648 743.9L649 743.9L650 743.9L651 743.9L652 743.9L653 743.9L654 743.9L655 743.9L656 743.9L657 743.9L658 743.9L659 743.9L660 743.9L661 743.9L662 743.9L663 743.9L664 743.9L665 743.9L666 743.9L667 743.9L668 743.9L669 743.9L670 743.9L671 743.9L672 743.9L673 743.9L674 743.9L675 743.9L676 743.9L677 743.9L678 743.9L679 743.9L680 743.9L681 743.9L682 743.9L683 743.9L684 743.9L685 743.9L686 743.9L687 743.9L688 743.9L689 743.9L690 743.9L691 743.9L692 743.9L693 743.9L694 743.9L695 743.9L696 743.9L697 743.9L698 743.9L699 743.9L700 743.9L701 743.9L702 743.9L703 743.9L704 743.9L705 743.9L706 743.9L707 743.9L708 743.9L709 743.9L710 743.9L711 743.9L712 743.9L713 743.9L714 743.9L714.4 743.9" stroke="#000000"/>
<path d="M112.4 927L113.4 927L114.4 927L115.4 926.9L116.4 926.9L117.4 926.9L118.4 926.9L119.3 926.9L120.3 926.9L121.3 926.8L122.3 926.8L123.3 926.8L124.3 926.8L125.3 926.8L126.3 926.8L127.3 926.8L128.3 926.8L129.3 926.8L130.3 926.8L131.3 926.8L132.3 926.8L133.3 926.8L134.3 926.8L135.3 926.8L136.3 926.8L137.3 926.8L138.3 926.8L139.3 926.8L140.3 926.8L141.3 926.8L142.3 926.8L143.3 926.8L144.3 926.8L145.3 926.8L146.3 926.8L147.3 926.9L148.3 926.9L149.3 926.9L150.3 926.9L151.3 926.9L152.3 926.9L153.3 926.9L154.3 926.9L155.3 926.9L156.3 927L157.3 927L158.3 927L159.3 927L160.3 927L161.3 927L162.3 927L163.3 927L164.3 927L165.3 927.1L166.3 927.1L167.3 927.1L168.3 927.1L169.3 927.1L170.3 927.1L171.4 927.1L172.4 927.1L173.4 927.1L174.4 927.1L175.4 927.2L176.4 927.2L177.4 927.2L178.4 927.2L179.4 927.2L180.4 927.2L181.4 927.2L182.4 927.2L183.4 927.2L184.4 927.2L185.4 927.2L186.4 927.2L187.4 927.2L188.4 927.2L189.4 927.2L190.4 927.2L191.4 927.2L192.4 927.2L193.4 927.2L194.4 927.2L195.4 927.2L196.4 927.1L197.4 927.1L198.4 927.1L199.4 927.1L200.4 927.1L201.4 927.1L202.4 927.1L203.4 927L204.4 927L205.4 927L206.4 927L207.4 926.9L208.4 926.9L209.4 926.9L210.4 926.9L211.4 926.8L212.4 926.8L213.4 926.8L214.4 926.7L215.4 926.7L216.4 926.6L217.4 926.6L218.4 926.6L219.4 926.5L220.4 926.5L221.4 926.4L222.4 926.4L223.4 926.3L224.4 926.2L225.4 926.2L226.4 926.1L227.4 926.1L228.4 926L229.4 925.9L230.4 925.9L231.4 925.8L232.4 925.7L233.4 925.6L234.4 925.6L235.4 925.5L236.4 925.4L237.4 925.3L238.3 925.2L239.3 925.1L240.3 925L241.3 924.9L242.3 924.8L243.3 924.7L244.3 924.6L245.3 924.5L246.3 924.4L247.3 924.3L248.3 924.2L249.2 924.1L250.2 923.9L251.2 923.8L252.2 923.7L253.2 923.6L254.2 923.4L255.2 923.3L256.2 923.2L257.2 923L258.1 922.9L259.1 922.7L260.1 922.6L261.1 922.5L262.1 922.3L263.1 922.2L264.1 922L265.1 921.8L266.1 921.7L267 921.5L268 921.4L269 921.2L270 921L271 920.9L272 920.7L273 920.5L274 920.3L275 920.2L276 920L276.9 919.8L277.9 919.6L278.9 919.4L279.9 919.2L280.9 919L281.9 918.8L282.9 918.6L283.9 918.4L284.9 918.2L285.8 917.9L286.8 917.7L287.8 917.5L288.8 917.2L289.7 917L290.7 916.7L291.7 916.4L292.6 916.1L293.6 915.8L294.5 915.5L295.5 915.1L296.4 914.8L297.3 914.4L298.3 914.1L299.2 913.7L300.1 913.3L301 912.9L301.9 912.5L302.8 912.1L303.7 911.7L304.6 911.3L305.5 910.8L306.4 910.4L307.3 909.9L308.1 909.4L309 908.9L309.9 908.4L310.7 907.9L311.6 907.4L312.4 906.9L313.3 906.4L314.1 905.8L314.9 905.3L315.7 904.7L316.6 904.1L317.4 903.6L318.2 903L319 902.4L319.8 901.8L320.6 901.2L321.4 900.6L322.1 900L322.9 899.3L323.7 898.7L324.4 898L325.2 897.4L326 896.7L326.7 896.1L327.4 895.4L328.2 894.7L328.9 894L329.6 893.3L330.3 892.6L331.1 891.9L331.8 891.2L332.5 890.5L333.1 889.7L333.8 889L334.5 888.3L335.2 887.5L335.9 886.8L336.5 886L337.2 885.2L337.8 884.5L338.5 883.7L339.1 882.9L339.7 882.1L340.3 881.3L341 880.5L341.6 879.7L342.2 878.9L342.8 878.1L343.4 877.3L344 876.5L344.5 875.7L345.1 874.9L345.7 874L346.2 873.2L346.8 872.4L347.3 871.5L347.9 870.7L348.4 869.8L348.9 869L349.4 868.1L349.9 867.3L350.5 866.4L351 865.5L351.4 864.7L351.9 863.8L352.4 862.9L352.9 862L353.4 861.2L353.8 860.3L354.3 859.4L354.7 858.5L355.2 857.6L355.6 856.7L356.1 855.8L356.5 854.9L356.9 854L357.4 853.1L357.8 852.2L358.2 851.3L358.6 850.4L359 849.5L359.4 848.6L359.8 847.7L360.2 846.7L360.6 845.8L361 844.9L361.4 844L361.8 843L362.1 842.1L362.5 841.2L362.9 840.3L363.2 839.3L363.6 838.4L364 837.5L364.3 836.5L364.7 835.6L365 834.7L365.4 833.7L365.7 832.8L366.1 831.8L366.4 830.9L366.8 830L367.1 829L367.4 828.1L367.8 827.1L368.1 826.2L368.4 825.2L368.8 824.3L369.1 823.4L369.4 822.4L369.7 821.5L370.1 820.5L370.4 819.6L370.7 818.6L371.1 817.7L371.4 816.7L371.7 815.8L372.1 814.9L372.4 813.9L372.7 813L373.1 812.1L373.4 811.1L373.8 810.2L374.2 809.3L374.5 808.3L374.9 807.4L375.3 806.5L375.7 805.5L376.1 804.6L376.5 803.7L376.9 802.8L377.3 801.9L377.7 801L378.1 800.1L378.5 799.1L379 798.2L379.4 797.3L379.8 796.4L380.3 795.5L380.7 794.6L381.1 793.7L381.5 792.8L382 791.9L382.4 791L382.8 790.1L383.2 789.2L383.6 788.3L384.1 787.4L384.5 786.4L384.9 785.5L385.3 784.6L385.6 783.7L386 782.8L386.4 781.9L386.8 781L387.2 780L387.6 779.1L387.9 778.2L388.3 777.3L388.7 776.4L389.1 775.5L389.4 774.5L389.8 773.6L390.2 772.7L390.6 771.8L391 770.9L391.3 769.9L391.7 769L392.1 768.1L392.5 767.2L392.9 766.3L393.3 765.3L393.7 764.4L394.1 763.5L394.5 762.6L395 761.7L395.4 760.7L395.8 759.8L396.3 758.9L396.7 758L397.2 757.1L397.7 756.2L398.2 755.3L398.8 754.5L399.3 753.6L400 752.8L400.6 752L401.3 751.3L402 750.6L402.8 749.9L403.6 749.2L404.4 748.6L405.3 748L406.2 747.5L407.1 747L408.1 746.5L409 746.2L410 745.9L410.9 745.6L411.9 745.4L412.8 745.3L413.7 745.2L414.7 745.2L415.6 745.3L416.5 745.5L417.3 745.7L418.2 745.9L419.1 746.3L419.9 746.6L420.7 747.1L421.6 747.5L422.4 748L423.2 748.6L423.9 749.2L424.7 749.8L425.5 750.5L426.2 751.2L426.9 751.9L427.7 752.7L428.4 753.4L429.1 754.2L429.8 755L430.4 755.8L431.1 756.6L431.8 757.5L432.4 758.3L433 759.1L433.7 760L434.3 760.8L434.9 761.6L435.5 762.5L436.1 763.3L436.7 764.1L437.2 765L437.8 765.8L438.4 766.6L438.9 767.5L439.5 768.3L440 769.2L440.5 770L441.1 770.9L441.6 771.7L442.1 772.6L442.6 773.4L443.2 774.3L443.7 775.1L444.2 775.9L444.7 776.8L445.2 777.6L445.7 778.5L446.2 779.3L446.7 780.2L447.2 781L447.7 781.9L448.2 782.7L448.8 783.6L449.3 784.4L449.8 785.3L450.3 786.1L450.8 786.9L451.3 787.8L451.8 788.6L452.4 789.5L452.9 790.3L453.4 791.1L454 792L454.5 792.8L455.1 793.6L455.6 794.5L456.2 795.3L456.7 796.1L457.3 796.9L457.8 797.8L458.4 798.6L459 799.4L459.5 800.2L460.1 801L460.7 801.8L461.3 802.7L461.9 803.5L462.5 804.3L463 805.1L463.6 805.9L464.2 806.7L464.9 807.5L465.5 808.3L466.1 809.1L466.7 809.9L467.3 810.7L467.9 811.4L468.6 812.2L469.2 813L469.8 813.8L470.5 814.6L471.1 815.3L471.8 816.1L472.4 816.9L473.1 817.6L473.7 818.4L474.4 819.2L475 819.9L475.7 820.7L476.4 821.4L477 822.2L477.7 822.9L478.4 823.7L479.1 824.4L479.8 825.1L480.5 825.9L481.2 826.6L481.8 827.3L482.5 828L483.3 828.7L484 829.4L484.7 830.2L485.4 830.9L486.1 831.6L486.8 832.3L487.6 833L488.3 833.6L489 834.3L489.7 835L490.5 835.7L491.2 836.4L492 837L492.7 837.7L493.5 838.4L494.2 839L495 839.7L495.7 840.3L496.5 841L497.3 841.6L498.1 842.2L498.8 842.9L499.6 843.5L500.4 844.1L501.2 844.7L502 845.3L502.8 845.9L503.6 846.5L504.4 847.1L505.2 847.7L506 848.3L506.8 848.9L507.6 849.5L508.4 850L509.2 850.6L510 851.2L510.9 851.7L511.7 852.3L512.5 852.8L513.4 853.3L514.2 853.8L515.1 854.3L516 854.8L516.8 855.3L517.7 855.8L518.6 856.2L519.5 856.7L520.4 857.1L521.3 857.6L522.2 858L523.1 858.4L524 858.8L524.9 859.2L525.8 859.6L526.8 860L527.7 860.4L528.6 860.7L529.6 861.1L530.5 861.5L531.4 861.9L532.3 862.3L533.3 862.7L534.2 863.1L535.1 863.5L536 863.9L537 864.3L537.9 864.7L538.8 865.1L539.7 865.5L540.6 866L541.5 866.4L542.4 866.8L543.3 867.2L544.2 867.7L545.1 868.1L546 868.5L546.9 869L547.8 869.4L548.7 869.8L549.6 870.2L550.6 870.6L551.5 871.1L552.4 871.5L553.3 871.8L554.2 872.2L555.1 872.6L556.1 873L557 873.4L557.9 873.7L558.9 874.1L559.8 874.4L560.7 874.8L561.7 875.1L562.6 875.5L563.6 875.8L564.5 876.1L565.4 876.4L566.4 876.8L567.3 877.1L568.3 877.4L569.2 877.7L570.2 878L571.1 878.3L572.1 878.6L573.1 878.9L574 879.1L575 879.4L575.9 879.7L576.9 880L577.9 880.2L578.8 880.5L579.8 880.8L580.8 881L581.7 881.3L582.7 881.5L583.7 881.8L584.7 882L585.6 882.2L586.6 882.5L587.6 882.7L588.5 882.9L589.5 883.2L590.5 883.4L591.5 883.6L592.4 883.8L593.4 884.1L594.4 884.3L595.4 884.5L596.4 884.7L597.3 884.9L598.3 885.1L599.3 885.3L600.3 885.5L601.3 885.7L602.2 885.9L603.2 886.1L604.2 886.3L605.2 886.5L606.2 886.6L607.2 886.8L608.1 887L609.1 887.2L610.1 887.4L611.1 887.5L612.1 887.7L613.1 887.9L614 888.1L615 888.2L616 888.4L617 888.5L618 888.7L619 888.9L620 889L620.9 889.2L621.9 889.3L622.9 889.5L623.9 889.6L624.9 889.8L625.9 889.9L626.9 890.1L627.9 890.2L628.9 890.4L629.8 890.5L630.8 890.6L631.8 890.8L632.8 890.9L633.8 891L634.8 891.2L635.8 891.3L636.8 891.4L637.8 891.5L638.8 891.7L639.8 891.8L640.8 891.9L641.7 892L642.7 892.2L643.7 892.3L644.7 892.4L645.7 892.5L646.7 892.6L647.7 892.7L648.7 892.8L649.7 892.9L650.7 893.1L651.7 893.2L652.7 893.3L653.7 893.4L654.7 893.5L655.7 893.6L656.7 893.7L657.7 893.8L658.6 893.9L659.6 894L660.6 894.1L661.6 894.2L662.6 894.3L663.6 894.4L664.6 894.5L665.6 894.6L666.6 894.6L667.6 894.7L668.6 894.8L669.6 894.9L670.6 895L671.6 895.1L672.6 895.2L673.6 895.3L674.6 895.4L675.6 895.4L676.6 895.5L677.6 895.6L678.6 895.7L679.6 895.8L680.6 895.9L681.6 895.9L682.6 896L683.6 896.1L684.6 896.2L685.6 896.3L686.6 896.3L687.6 896.4L688.6 896.5L689.5 896.6L690.5 896.7L691.5 896.7L692.5 896.8L693.5 896.9L694.5 897L695.5 897L696.5 897.1L697.5 897.2L698.5 897.3L699.5 897.4L700.5 897.4L701.5 897.5L702.5 897.6L703.5 897.7L704.5 897.7L705.5 897.8L706.5 897.9L707.5 898L708.5 898L709.5 898.1L710.5 898.2L711.5 898.3L712.5 898.3L713.5 898.4L714.4 898.5" stroke="#008000" stroke-dasharray="0.1 6.84 6.4 6.84 6.4 6.84 6.4 6.84 6.4 6.84 6.4 6.84 6.4 6.84 6.4 6.85 6.41 6.86 6.42 6.87 6.43 6.89 6.46 6.93 6.49 6.96 6.53 7.08 6.79 7.47 7.33 8.19 8.22 9.27 8.67 8.74 7.82 8.01 7.27 7.62 6.99 7.38 6.86 7.27 6.79 7.28 6.89 7.46 7.1 7.55 6.95 7.4 6.95 7.51 7.47 8.76 6.78 7.04 7.9 9.14 7.95 8.17 7.5 7.99 7.5 8.2 7.88 8.57 8.33 9.14 8.78 9.38 8.4 8.66 7.85 7.92 7.09 7.41 6.97 7.57 7.06 7.41 6.82 7.21 6.66 7.09 6.58 7.01 6.53 6.95 6.5 6.94 6.47 6.9 6.46 6.89 6.43 6.88 6.43 6.87 6.43 6.87 6.42 6.87 6.42 54.44"/>
</g>
<g stroke="#000" stroke-width="2" fill="none" stroke-linecap="butt">
<rect x="118.4" y="118.3" width="590.3" height="826.9"/>
<path d="M118.4 393.9H708.7M118.4 669.4H708.7"/>
<path d="M147.9 118.3v6.8M147.9 387.1v13.6M147.9 662.6v13.6M147.9 945.2v-6.8M177.4 118.3v12.5M177.4 381.4v25.0M177.4 656.9v25.0M177.4 945.2v-12.5M206.9 118.3v6.8M206.9 387.1v13.6M206.9 662.6v13.6M206.9 945.2v-6.8M236.5 118.3v12.5M236.5 381.4v25.0M236.5 656.9v25.0M236.5 945.2v-12.5M266.0 118.3v6.8M266.0 387.1v13.6M266.0 662.6v13.6M266.0 945.2v-6.8M295.5 118.3v12.5M295.5 381.4v25.0M295.5 656.9v25.0M295.5 945.2v-12.5M325.0 118.3v6.8M325.0 387.1v13.6M325.0 662.6v13.6M325.0 945.2v-6.8M354.5 118.3v12.5M354.5 381.4v25.0M354.5 656.9v25.0M354.5 945.2v-12.5M384.0 118.3v6.8M384.0 387.1v13.6M384.0 662.6v13.6M384.0 945.2v-6.8M413.6 118.3v12.5M413.6 381.4v25.0M413.6 656.9v25.0M413.6 945.2v-12.5M443.1 118.3v6.8M443.1 387.1v13.6M443.1 662.6v13.6M443.1 945.2v-6.8M472.6 118.3v12.5M472.6 381.4v25.0M472.6 656.9v25.0M472.6 945.2v-12.5M502.1 118.3v6.8M502.1 387.1v13.6M502.1 662.6v13.6M502.1 945.2v-6.8M531.6 118.3v12.5M531.6 381.4v25.0M531.6 656.9v25.0M531.6 945.2v-12.5M561.1 118.3v6.8M561.1 387.1v13.6M561.1 662.6v13.6M561.1 945.2v-6.8M590.6 118.3v12.5M590.6 381.4v25.0M590.6 656.9v25.0M590.6 945.2v-12.5M620.2 118.3v6.8M620.2 387.1v13.6M620.2 662.6v13.6M620.2 945.2v-6.8M649.7 118.3v12.5M649.7 381.4v25.0M649.7 656.9v25.0M649.7 945.2v-12.5M679.2 118.3v6.8M679.2 387.1v13.6M679.2 662.6v13.6M679.2 945.2v-6.8M118.4 375.5h12.5M708.7 375.5h-12.5M118.4 329.6h6.8M708.7 329.6h-6.8M118.4 283.7h12.5M708.7 283.7h-12.5M118.4 237.7h6.8M708.7 237.7h-6.8M118.4 191.8h12.5M708.7 191.8h-12.5M118.4 145.9h6.8M708.7 145.9h-6.8M118.4 651.0h12.5M708.7 651.0h-12.5M118.4 605.1h6.8M708.7 605.1h-6.8M118.4 559.2h12.5M708.7 559.2h-12.5M118.4 513.2h6.8M708.7 513.2h-6.8M118.4 467.3h12.5M708.7 467.3h-12.5M118.4 421.4h6.8M708.7 421.4h-6.8M118.4 926.8h12.5M708.7 926.8h-12.5M118.4 880.9h6.8M708.7 880.9h-6.8M118.4 835.0h12.5M708.7 835.0h-12.5M118.4 789.0h6.8M708.7 789.0h-6.8M118.4 743.1h12.5M708.7 743.1h-12.5M118.4 697.2h6.8M708.7 697.2h-6.8"/>
</g>
<g fill="none" stroke-width="3.0" stroke-linecap="round">
<path d="M545.5 139.4H598.2" stroke="#0000ff" stroke-dasharray="13.4 15.1"/>
<path d="M545.5 166.8H598.2" stroke="#ff0000" stroke-dasharray="3.7 13.45"/>
<path d="M545.5 194.1H598.2" stroke="#000000"/>
<path d="M545.5 221.5H598.2" stroke="#008000" stroke-dasharray="6.3 6.6"/>
<path d="M548.1 482.5H600.5" stroke="#0000ff" stroke-dasharray="13.4 15.1"/>
<path d="M548.1 509.9H600.5" stroke="#ff0000" stroke-dasharray="3.7 13.45"/>
<path d="M548.1 537.2H600.5" stroke="#000000"/>
<path d="M548.1 564.5H600.5" stroke="#008000" stroke-dasharray="6.3 6.6"/>
<path d="M566.1 762.3H618.5" stroke="#0000ff" stroke-dasharray="13.4 15.1"/>
<path d="M566.1 789.6H618.5" stroke="#ff0000" stroke-dasharray="3.7 13.45"/>
<path d="M566.1 817.0H618.5" stroke="#000000"/>
<path d="M566.1 844.3H618.5" stroke="#008000" stroke-dasharray="6.3 6.6"/>
</g>
<g filter="url(#g)">
<text font-size="23.7" text-anchor="end" transform="translate(105.6 381.7) scale(0.948 1)">0.0</text>
<text font-size="23.7" text-anchor="end" transform="translate(105.6 289.9) scale(0.948 1)">0.5</text>
<text font-size="23.7" text-anchor="end" transform="translate(105.6 198.0) scale(0.948 1)">1.0</text>
<text font-size="23.7" text-anchor="end" transform="translate(105.6 657.2) scale(0.948 1)">0.0</text>
<text font-size="23.7" text-anchor="end" transform="translate(105.6 565.4) scale(0.948 1)">0.5</text>
<text font-size="23.7" text-anchor="end" transform="translate(105.6 473.5) scale(0.948 1)">1.0</text>
<text font-size="23.7" text-anchor="end" transform="translate(105.6 933.0) scale(0.948 1)">0.0</text>
<text font-size="23.7" text-anchor="end" transform="translate(105.6 841.2) scale(0.948 1)">0.5</text>
<text font-size="23.7" text-anchor="end" transform="translate(105.6 749.3) scale(0.948 1)">1.0</text>
<text font-size="23.7" text-anchor="middle" transform="translate(118.0 976) scale(0.948 1)">-1.0</text>
<text font-size="23.7" text-anchor="middle" transform="translate(177.0 976) scale(0.948 1)">-0.9</text>
<text font-size="23.7" text-anchor="middle" transform="translate(236.1 976) scale(0.948 1)">-0.8</text>
<text font-size="23.7" text-anchor="middle" transform="translate(295.1 976) scale(0.948 1)">-0.7</text>
<text font-size="23.7" text-anchor="middle" transform="translate(354.1 976) scale(0.948 1)">-0.6</text>
<text font-size="23.7" text-anchor="middle" transform="translate(413.2 976) scale(0.948 1)">-0.5</text>
<text font-size="23.7" text-anchor="middle" transform="translate(472.2 976) scale(0.948 1)">-0.4</text>
<text font-size="23.7" text-anchor="middle" transform="translate(531.2 976) scale(0.948 1)">-0.3</text>
<text font-size="23.7" text-anchor="middle" transform="translate(590.2 976) scale(0.948 1)">-0.2</text>
<text font-size="23.7" text-anchor="middle" transform="translate(649.3 976) scale(0.948 1)">-0.1</text>
<text font-size="23.7" text-anchor="middle" transform="translate(708.3 976) scale(0.948 1)">0.0</text>
<text font-size="29.0" text-anchor="middle" style="stroke-width:0.3px;word-spacing:2px" transform="translate(61.8 467.7) rotate(-90) scale(0.925 1)">Conductance (2e<tspan font-size="18.5" dy="-16">2</tspan><tspan dy="16">/h)</tspan></text>
<text font-size="28.2" x="314" y="1006.6" style="stroke-width:0.3px"><tspan class="se">ε</tspan><tspan font-size="17.5" dy="11.5">0</tspan><tspan dy="-11.5"> (in units of </tspan><tspan class="se">Γ</tspan>)</text>
<text class="it" font-size="20.3" transform="translate(178.7 153.1) scale(1.055 1)">ϕ</text>
<text class="se" font-size="20.3" style="stroke-width:0.4px" transform="translate(193.6 154.2) scale(1.25 1)">=</text>
<text class="se" font-size="20.3" transform="translate(210.5 153.1) scale(1.055 1)">0</text>
<text class="se" font-size="20.3" transform="translate(222.3 153.1) scale(1.055 1)">,</text>
<text class="it" font-size="21.1" transform="translate(229.1 153.1) scale(1.33 1)">ε</text>
<text class="se" font-size="11.8" transform="translate(239.3 158.1) scale(1.055 1)">1</text>
<text class="se" font-size="20.3" style="stroke-width:0.4px" transform="translate(248.9 154.2) scale(1.25 1)">=</text>
<text class="se" font-size="20.3" style="stroke-width:0.4px" transform="translate(266.1 154.2) scale(1.25 1)">−</text>
<text class="se" font-size="20.3" transform="translate(281.6 153.1) scale(1.055 1)">Γ</text>
<path d="M293.4 159.0L302.0 136.8" stroke="#000" stroke-width="1.25" fill="none"/>
<text class="se" font-size="20.3" transform="translate(302.0 153.1) scale(1.055 1)">2</text>
<text class="se" font-size="20.3" transform="translate(316.4 153.1) scale(1.055 1)">,</text>
<text class="it" font-size="21.1" transform="translate(323.9 153.1) scale(1.33 1)">ε</text>
<text class="se" font-size="11.8" transform="translate(334.7 158.1) scale(1.055 1)">2</text>
<text class="se" font-size="20.3" style="stroke-width:0.4px" transform="translate(346.0 154.2) scale(1.25 1)">=</text>
<text class="it" font-size="21.1" transform="translate(364.1 153.1) scale(1.33 1)">ε</text>
<text class="se" font-size="11.8" transform="translate(374.6 158.1) scale(1.055 1)">0</text>
<text class="se" font-size="20.3" style="stroke-width:0.4px" transform="translate(383.9 154.2) scale(1.25 1)">+</text>
<text class="se" font-size="20.3" transform="translate(399.2 153.1) scale(1.055 1)">Γ</text>
<path d="M411.0 159.0L419.6 136.8" stroke="#000" stroke-width="1.25" fill="none"/>
<text class="se" font-size="20.3" transform="translate(420.9 153.1) scale(1.055 1)">2</text>
<text class="it" font-size="20.3" transform="translate(177.3 186.1) scale(1.055 1)">U</text>
<text class="se" font-size="11.8" transform="translate(194.4 191.1) scale(1.055 1)">2</text>
<text class="se" font-size="20.3" style="stroke-width:0.4px" transform="translate(205.4 187.2) scale(1.25 1)">=</text>
<text class="se" font-size="20.3" transform="translate(223.5 186.1) scale(1.055 1)">0</text>
<text class="it" font-size="20.3" transform="translate(184.7 429.7) scale(1.055 1)">ϕ</text>
<text class="se" font-size="20.3" style="stroke-width:0.4px" transform="translate(198.3 430.8) scale(1.25 1)">=</text>
<text class="se" font-size="20.3" transform="translate(215.2 429.7) scale(1.055 1)">0</text>
<text class="se" font-size="20.3" transform="translate(226.0 429.7) scale(1.055 1)">,</text>
<text class="it" font-size="21.1" transform="translate(234.4 429.7) scale(1.33 1)">ε</text>
<text class="se" font-size="11.8" transform="translate(244.5 434.7) scale(1.055 1)">1</text>
<text class="se" font-size="20.3" style="stroke-width:0.4px" transform="translate(255.0 430.8) scale(1.25 1)">=</text>
<text class="se" font-size="20.3" style="stroke-width:0.4px" transform="translate(270.4 430.8) scale(1.25 1)">−</text>
<text class="se" font-size="20.3" transform="translate(283.6 429.7) scale(1.055 1)">Γ</text>
<text class="se" font-size="20.3" transform="translate(294.4 429.7) scale(1.055 1)">,</text>
<text class="it" font-size="21.1" transform="translate(304.3 429.7) scale(1.33 1)">ε</text>
<text class="se" font-size="11.8" transform="translate(315.8 434.7) scale(1.055 1)">2</text>
<text class="se" font-size="20.3" style="stroke-width:0.4px" transform="translate(326.2 430.8) scale(1.25 1)">=</text>
<text class="it" font-size="21.1" transform="translate(343.7 429.7) scale(1.33 1)">ε</text>
<text class="se" font-size="11.8" transform="translate(355.2 434.7) scale(1.055 1)">0</text>
<text class="se" font-size="20.3" style="stroke-width:0.4px" transform="translate(366.5 430.8) scale(1.25 1)">+</text>
<text class="se" font-size="20.3" transform="translate(382.0 429.7) scale(1.055 1)">Γ</text>
<path d="M393.6 435.6L402.2 413.4" stroke="#000" stroke-width="1.25" fill="none"/>
<text class="se" font-size="20.3" transform="translate(402.0 429.7) scale(1.055 1)">2</text>
<text class="it" font-size="20.3" transform="translate(182.5 461.7) scale(1.055 1)">U</text>
<text class="se" font-size="11.8" transform="translate(199.4 466.7) scale(1.055 1)">2</text>
<text class="se" font-size="20.3" style="stroke-width:0.4px" transform="translate(210.7 462.8) scale(1.25 1)">=</text>
<text class="se" font-size="20.3" transform="translate(227.0 461.7) scale(1.055 1)">0</text>
<text class="it" font-size="20.3" transform="translate(182.4 703.8) scale(1.055 1)">ϕ</text>
<text class="se" font-size="20.3" style="stroke-width:0.4px" transform="translate(196.3 704.9) scale(1.25 1)">=</text>
<text class="se" font-size="20.3" transform="translate(212.5 703.8) scale(1.055 1)">0</text>
<text class="se" font-size="20.3" transform="translate(223.4 703.8) scale(1.055 1)">,</text>
<text class="it" font-size="21.1" transform="translate(231.4 703.8) scale(1.33 1)">ε</text>
<text class="se" font-size="11.8" transform="translate(241.0 708.8) scale(1.055 1)">1</text>
<text class="se" font-size="20.3" style="stroke-width:0.4px" transform="translate(251.1 704.9) scale(1.25 1)">=</text>
<text class="se" font-size="20.3" style="stroke-width:0.4px" transform="translate(266.1 704.9) scale(1.25 1)">−</text>
<text class="se" font-size="20.3" transform="translate(278.7 703.8) scale(1.055 1)">2</text>
<text class="se" font-size="20.3" transform="translate(288.8 703.8) scale(1.055 1)">Γ</text>
<text class="se" font-size="20.3" transform="translate(300.1 703.8) scale(1.055 1)">,</text>
<text class="it" font-size="21.1" transform="translate(309.5 703.8) scale(1.33 1)">ε</text>
<text class="se" font-size="11.8" transform="translate(320.3 708.8) scale(1.055 1)">2</text>
<text class="se" font-size="20.3" style="stroke-width:0.4px" transform="translate(330.7 704.9) scale(1.25 1)">=</text>
<text class="it" font-size="21.1" transform="translate(348.5 703.8) scale(1.33 1)">ε</text>
<text class="se" font-size="11.8" transform="translate(359.6 708.8) scale(1.055 1)">0</text>
<text class="se" font-size="20.3" style="stroke-width:0.4px" transform="translate(369.4 704.9) scale(1.25 1)">+</text>
<text class="se" font-size="20.3" transform="translate(384.6 703.8) scale(1.055 1)">Γ</text>
<path d="M395.9 709.7L404.5 687.5" stroke="#000" stroke-width="1.25" fill="none"/>
<text class="se" font-size="20.3" transform="translate(404.9 703.8) scale(1.055 1)">2</text>
<text class="it" font-size="20.3" transform="translate(180.6 736.2) scale(1.055 1)">U</text>
<text class="se" font-size="11.8" transform="translate(197.3 741.2) scale(1.055 1)">2</text>
<text class="se" font-size="20.3" style="stroke-width:0.4px" transform="translate(208.5 737.3) scale(1.25 1)">=</text>
<text class="se" font-size="20.3" transform="translate(224.4 736.2) scale(1.055 1)">0</text>
<text font-size="28.5" style="stroke-width:0.1px" transform="translate(132.7 161.5) scale(0.972 1)">(a)</text>
<text font-size="28.5" style="stroke-width:0.1px" transform="translate(132.6 435.5) scale(0.972 1)">(b)</text>
<text font-size="28.5" style="stroke-width:0.1px" transform="translate(131.6 714.3) scale(0.972 1)">(c)</text>
<text font-size="21.8" style="stroke-width:0.3px" transform="translate(603.6 147.0) scale(0.907 1)">U<tspan font-size="13.5" dy="6.6" dx="1">1</tspan><tspan dy="-4.4" dx="0.5">=</tspan><tspan dy="-2.2">0</tspan></text>
<text font-size="21.8" style="stroke-width:0.3px" transform="translate(603.6 174.3) scale(0.907 1)">U<tspan font-size="13.5" dy="6.6" dx="1">1</tspan><tspan dy="-4.4" dx="0.5">=</tspan><tspan dy="-2.2"></tspan></text>
<text class="se" font-size="20" transform="translate(636.9 174.4) scale(1.12 1)">Γ</text>
<text font-size="21.8" style="stroke-width:0.3px" transform="translate(603.6 201.7) scale(0.907 1)">U<tspan font-size="13.5" dy="6.6" dx="1">1</tspan><tspan dy="-4.4" dx="0.5">=</tspan><tspan dy="-2.2">2</tspan></text>
<text class="se" font-size="20" transform="translate(648.4 201.8) scale(1.12 1)">Γ</text>
<text font-size="21.8" style="stroke-width:0.3px" transform="translate(603.6 229.1) scale(0.907 1)">U<tspan font-size="13.5" dy="6.6" dx="1">1</tspan><tspan dy="-4.4" dx="0.5">=</tspan><tspan dy="-2.2">3</tspan></text>
<text class="se" font-size="20" transform="translate(648.4 229.2) scale(1.12 1)">Γ</text>
<text font-size="21.8" style="stroke-width:0.3px" transform="translate(605.6 490.1) scale(0.907 1)">U<tspan font-size="13.5" dy="6.6" dx="1">1</tspan><tspan dy="-4.4" dx="0.5">=</tspan><tspan dy="-2.2">0</tspan></text>
<text font-size="21.8" style="stroke-width:0.3px" transform="translate(605.6 517.5) scale(0.907 1)">U<tspan font-size="13.5" dy="6.6" dx="1">1</tspan><tspan dy="-4.4" dx="0.5">=</tspan><tspan dy="-2.2"></tspan></text>
<text class="se" font-size="20" transform="translate(638.9 517.6) scale(1.12 1)">Γ</text>
<text font-size="21.8" style="stroke-width:0.3px" transform="translate(605.6 544.8) scale(0.907 1)">U<tspan font-size="13.5" dy="6.6" dx="1">1</tspan><tspan dy="-4.4" dx="0.5">=</tspan><tspan dy="-2.2">2</tspan></text>
<text class="se" font-size="20" transform="translate(650.4 544.9) scale(1.12 1)">Γ</text>
<text font-size="21.8" style="stroke-width:0.3px" transform="translate(605.6 572.1) scale(0.907 1)">U<tspan font-size="13.5" dy="6.6" dx="1">1</tspan><tspan dy="-4.4" dx="0.5">=</tspan><tspan dy="-2.2">3</tspan></text>
<text class="se" font-size="20" transform="translate(650.4 572.2) scale(1.12 1)">Γ</text>
<text font-size="21.8" style="stroke-width:0.3px" transform="translate(624.1 769.9) scale(0.907 1)">U<tspan font-size="13.5" dy="6.6" dx="1">1</tspan><tspan dy="-4.4" dx="0.5">=</tspan><tspan dy="-2.2">0</tspan></text>
<text font-size="21.8" style="stroke-width:0.3px" transform="translate(624.1 797.2) scale(0.907 1)">U<tspan font-size="13.5" dy="6.6" dx="1">1</tspan><tspan dy="-4.4" dx="0.5">=</tspan><tspan dy="-2.2"></tspan></text>
<text class="se" font-size="20" transform="translate(657.4 797.4) scale(1.12 1)">Γ</text>
<text font-size="21.8" style="stroke-width:0.3px" transform="translate(624.1 824.6) scale(0.907 1)">U<tspan font-size="13.5" dy="6.6" dx="1">1</tspan><tspan dy="-4.4" dx="0.5">=</tspan><tspan dy="-2.2">2</tspan></text>
<text class="se" font-size="20" transform="translate(668.9 824.7) scale(1.12 1)">Γ</text>
<text font-size="21.8" style="stroke-width:0.3px" transform="translate(624.1 851.9) scale(0.907 1)">U<tspan font-size="13.5" dy="6.6" dx="1">1</tspan><tspan dy="-4.4" dx="0.5">=</tspan><tspan dy="-2.2">3</tspan></text>
<text class="se" font-size="20" transform="translate(668.9 852.0) scale(1.12 1)">Γ</text>
</g>
</svg></body></html>
